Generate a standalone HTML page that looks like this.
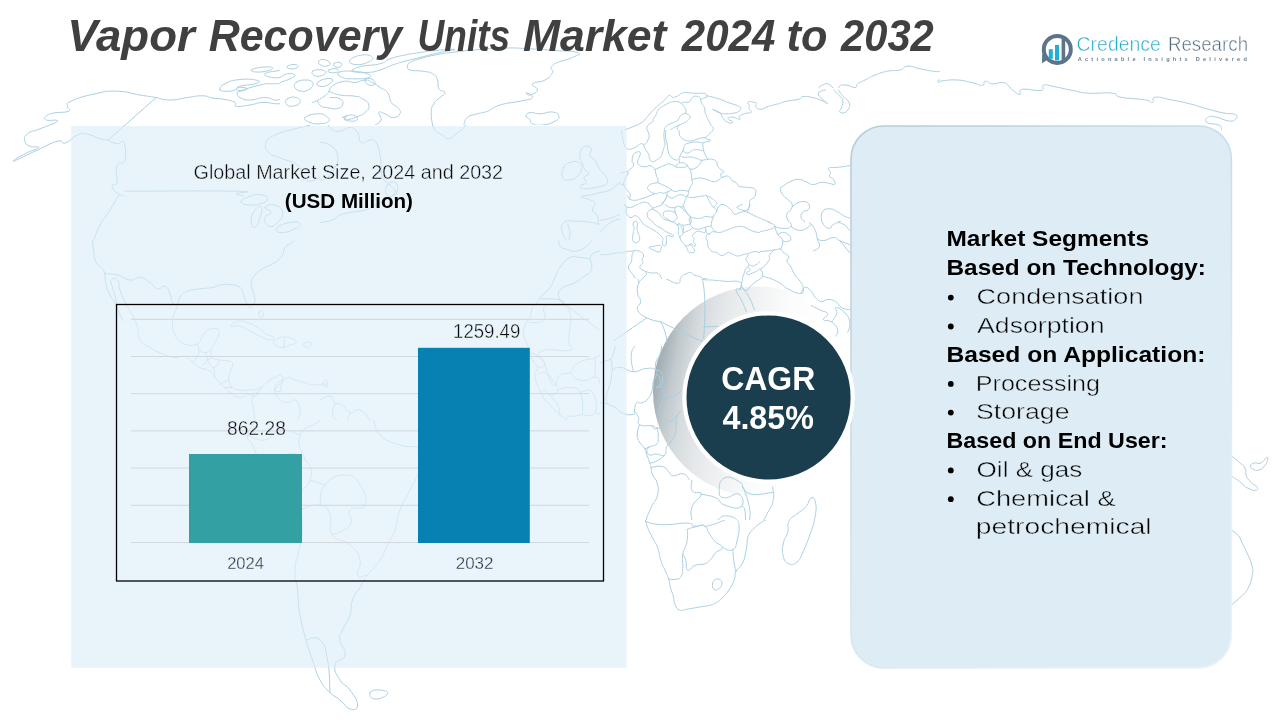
<!DOCTYPE html>
<html lang="en">
<head>
<meta charset="utf-8">
<title>Vapor Recovery Units Market 2024 to 2032</title>
<style>
  html, body { margin: 0; padding: 0; background: #ffffff; }
  body { width: 1280px; height: 720px; overflow: hidden; position: relative;
         font-family: "Liberation Sans", sans-serif; }
  svg { position: absolute; left: 0; top: 0; display: block; will-change: transform; }
  text { font-family: "Liberation Sans", sans-serif; }

  .t-title { font-size: 44.6px; font-weight: 700; font-style: italic; fill: #404040; }
  .t-reg { font-size: 19.5px; fill: #0a0a0a; stroke: #eaf4fa; stroke-width: 0.4px; }
  .t-bold { font-size: 19.5px; font-weight: 700; fill: #000000; }
  .t-axis { font-size: 16.7px; fill: #2a3742; stroke: #eaf4fa; stroke-width: 0.3px; }
  .t-seg-b { font-size: 22.3px; font-weight: 700; fill: #000000; }
  .t-seg { font-size: 22.3px; fill: #050505; stroke: #deedf5; stroke-width: 0.45px; }
  .t-cagr { font-size: 33.6px; font-weight: 700; fill: #ffffff; }
  .t-logo1 { font-size: 19.3px; fill: #22a9cb; stroke: #ffffff; stroke-width: 0.5px; }
  .t-logo2 { font-size: 19.3px; fill: #526b80; stroke: #ffffff; stroke-width: 0.5px; }
  .t-tag { font-size: 5.6px; font-weight: 700; fill: #6a7f90; }

  .map path, .map polyline { fill: none; stroke: #aacfe0; stroke-width: 1; stroke-linejoin: round; stroke-linecap: round; }
</style>
</head>
<body>
<svg width="1280" height="720" viewBox="0 0 1280 720">
  <defs>
    <linearGradient id="crescent" x1="0" y1="0.4" x2="1" y2="0.6">
      <stop offset="0" stop-color="#9ba7ae" stop-opacity="1"/>
      <stop offset="0.03" stop-color="#a7b2b8" stop-opacity="1"/>
      <stop offset="0.065" stop-color="#b4bec3" stop-opacity="1"/>
      <stop offset="0.095" stop-color="#c2cace" stop-opacity="1"/>
      <stop offset="0.17" stop-color="#d6dbde" stop-opacity="1"/>
      <stop offset="0.28" stop-color="#e6e9eb" stop-opacity="1"/>
      <stop offset="0.40" stop-color="#f0f1f2" stop-opacity="1"/>
      <stop offset="0.56" stop-color="#f9fafa" stop-opacity="0.8"/>
      <stop offset="0.76" stop-color="#ffffff" stop-opacity="0"/>
    </linearGradient>
    <linearGradient id="panelStroke" x1="0" y1="0" x2="0.6" y2="1">
      <stop offset="0" stop-color="#b4cbd8"/>
      <stop offset="0.55" stop-color="#cfe0ea"/>
      <stop offset="1" stop-color="#e9f3f8"/>
    </linearGradient>
  </defs>

  <!-- crescent behind map lines -->
  <circle cx="758" cy="391.5" r="105" fill="url(#crescent)"/>
  <!-- ============ MAP (background) ============ -->
  <g class="map" id="map">
    <clipPath id="mc0"><rect x="0" y="60" width="280" height="180"/><rect x="280" y="125" width="40" height="115"/></clipPath>
    <g clip-path="url(#mc0)"><path d="M13.8 161.2C20.1 158.2 25.8 155.3 37.5 150.0C49.2 144.7 50.0 143.1 57.5 141.2C65.0 139.4 60.2 144.7 65.5 143.0C70.8 141.3 71.6 137.3 77.5 135.0C83.4 132.7 81.5 133.2 87.5 134.2C93.5 135.2 94.3 137.2 100.0 138.8C105.7 140.3 106.4 139.7 108.8 140.0 M13.8 161.2C14.2 160.7 11.8 161.3 15.5 159.0C19.2 156.7 21.3 155.6 27.5 152.5C33.7 149.4 38.1 149.2 38.8 147.5C39.4 145.8 33.7 147.9 30.0 146.2C26.3 144.6 25.7 144.6 25.0 141.2C24.3 137.9 23.5 137.1 27.5 133.8C31.5 130.4 32.0 132.1 40.0 128.8C48.0 125.4 55.8 123.6 57.5 121.2C59.2 118.9 49.2 121.3 46.2 120.0C43.2 118.7 44.2 118.1 46.2 116.2C48.2 114.4 47.8 114.3 53.8 113.0C59.8 111.7 65.1 113.0 68.8 111.2C72.4 109.5 66.8 108.9 67.5 106.2C68.2 103.6 63.9 104.6 71.2 101.2C78.6 97.9 82.7 96.4 95.0 93.8C107.3 91.1 105.5 90.9 117.5 91.2C129.5 91.6 129.7 93.3 140.0 95.0C150.3 96.7 151.9 96.8 156.2 97.5 M156.2 97.5 L108.8 139.5 M156.2 97.5C159.9 98.2 161.7 100.0 170.0 100.0C178.3 100.0 178.8 98.6 187.5 97.5C196.2 96.4 195.8 95.6 202.5 95.8C209.2 95.9 206.5 97.0 212.5 98.0C218.5 99.0 219.0 98.3 225.0 99.5C231.0 100.7 232.0 100.7 235.0 102.5C238.0 104.3 232.2 105.6 236.2 106.2C240.2 106.9 243.0 106.0 250.0 105.0C257.0 104.0 255.2 102.8 262.5 102.5C269.8 102.2 270.8 103.8 277.5 103.8C284.2 103.8 282.2 101.8 287.5 102.5C292.8 103.2 291.5 105.9 297.5 106.2C303.5 106.6 304.0 103.4 310.0 103.8C316.0 104.1 317.3 106.5 320.0 107.5 M220.0 89.5C220.0 87.5 219.7 86.4 225.0 83.8C230.3 81.1 231.3 80.4 240.0 79.5C248.7 78.6 253.5 79.4 257.5 80.5C261.5 81.6 259.7 82.2 255.0 83.8C250.3 85.3 245.3 84.6 240.0 86.2C234.7 87.9 239.0 88.7 235.0 90.0C231.0 91.3 229.0 91.4 225.0 91.2C221.0 91.1 220.0 91.5 220.0 89.5Z M251.2 70.0C252.6 68.7 259.3 67.3 265.0 67.0C270.7 66.7 273.8 67.4 272.5 68.8C271.2 70.1 265.7 71.7 260.0 72.0C254.3 72.3 249.9 71.3 251.2 70.0Z M265.0 73.8C266.3 72.2 268.3 72.2 275.0 71.2C281.7 70.2 284.0 69.0 290.0 70.0C296.0 71.0 299.5 73.0 297.5 75.0C295.5 77.0 289.8 77.0 282.5 77.5C275.2 78.0 274.7 78.0 270.0 77.0C265.3 76.0 263.7 75.3 265.0 73.8Z M240.0 91.2C246.0 88.9 251.3 87.0 260.0 85.0C268.7 83.0 266.5 83.8 272.5 83.8C278.5 83.8 279.5 82.7 282.5 85.0C285.5 87.3 285.1 88.5 283.8 92.5C282.4 96.5 282.5 98.7 277.5 100.0C272.5 101.3 272.3 97.5 265.0 97.5C257.7 97.5 256.7 100.0 250.0 100.0C243.3 100.0 243.3 99.2 240.0 97.5C236.7 95.8 237.5 95.4 237.5 93.8C237.5 92.1 234.0 93.6 240.0 91.2Z M296.2 87.5C297.2 84.5 299.4 82.3 303.8 80.0C308.1 77.7 308.8 77.8 312.5 78.8C316.2 79.8 318.2 80.8 317.5 83.8C316.8 86.8 314.7 88.0 310.0 90.0C305.3 92.0 303.7 91.9 300.0 91.2C296.3 90.6 295.2 90.5 296.2 87.5Z M287.5 100.0C289.5 98.5 294.2 97.2 297.5 97.5C300.8 97.8 302.0 99.8 300.0 101.2C298.0 102.7 293.3 103.3 290.0 103.0C286.7 102.7 285.5 101.5 287.5 100.0Z M290.0 65.0C291.7 64.0 295.2 63.8 297.5 64.5C299.8 65.2 300.4 66.5 298.8 67.5C297.1 68.5 293.6 68.9 291.2 68.2C288.9 67.6 288.3 66.0 290.0 65.0Z M237.5 87.5C239.5 86.8 244.2 87.3 246.2 88.0C248.2 88.7 247.0 89.3 245.0 90.0C243.0 90.7 240.8 91.2 238.8 90.5C236.8 89.8 235.5 88.2 237.5 87.5Z M108.8 140.0C109.1 140.3 107.7 140.2 110.0 141.2C112.3 142.2 113.8 143.4 117.5 143.8C121.2 144.1 121.8 138.2 123.8 142.5C125.8 146.8 126.3 154.3 125.0 160.0C123.7 165.7 121.1 161.1 118.8 163.8C116.4 166.4 116.7 165.0 116.2 170.0C115.8 175.0 118.0 178.5 117.0 182.5C116.0 186.5 113.4 183.0 112.5 185.0C111.6 187.0 112.1 187.7 113.8 190.0C115.4 192.3 116.1 192.1 118.8 193.8C121.4 195.4 122.4 195.6 123.8 196.2 M118.8 195.0C116.4 199.0 115.0 202.0 110.0 210.0C105.0 218.0 104.3 217.0 100.0 225.0C95.7 233.0 95.4 236.0 93.8 240.0 M125.0 191.2C154.3 191.2 205.3 190.6 235.0 191.2C264.7 191.9 233.9 192.4 236.2 193.8C238.6 195.1 241.8 195.6 243.8 196.2 M241.2 202.5C240.6 200.2 244.3 198.2 250.0 196.2C255.7 194.2 257.8 194.0 262.5 195.0C267.2 196.0 268.2 197.7 267.5 200.0C266.8 202.3 264.0 202.4 260.0 203.8C256.0 205.1 257.5 205.3 252.5 205.0C247.5 204.7 241.9 204.8 241.2 202.5Z M251.2 220.0C251.2 215.3 252.3 213.3 255.0 210.0C257.7 206.7 259.9 205.5 261.2 207.5C262.6 209.5 261.7 212.2 260.0 217.5C258.3 222.8 257.3 226.8 255.0 227.5C252.7 228.2 251.2 224.7 251.2 220.0Z M265.0 207.5C266.0 205.5 270.3 203.7 275.0 205.0C279.7 206.3 281.8 207.8 282.5 212.5C283.2 217.2 281.2 218.8 277.5 222.5C273.8 226.2 272.1 227.6 268.8 226.2C265.4 224.9 264.3 221.2 265.0 217.5C265.7 213.8 271.2 215.2 271.2 212.5C271.2 209.8 264.0 209.5 265.0 207.5Z M277.5 227.5C280.2 224.8 284.0 223.5 290.0 222.5C296.0 221.5 299.3 221.8 300.0 223.8C300.7 225.8 297.8 227.7 292.5 230.0C287.2 232.3 284.0 233.2 280.0 232.5C276.0 231.8 274.8 230.2 277.5 227.5Z M320.0 120.0C317.3 121.3 316.7 122.7 310.0 125.0C303.3 127.3 304.3 126.1 295.0 128.8C285.7 131.4 282.7 131.3 275.0 135.0C267.3 138.7 267.9 137.8 266.2 142.5C264.6 147.2 264.4 148.2 268.8 152.5C273.1 156.8 274.8 155.4 282.5 158.8C290.2 162.1 291.8 160.0 297.5 165.0C303.2 170.0 300.4 173.2 303.8 177.5C307.1 181.8 305.7 181.2 310.0 181.2C314.3 181.2 317.3 178.5 320.0 177.5"/></g>
    <clipPath id="mc1"><rect x="280" y="45" width="320" height="80"/></clipPath>
    <g clip-path="url(#mc1)"><path d="M407.5 66.2C408.2 65.2 406.7 64.5 410.0 62.5C413.3 60.5 413.3 60.8 420.0 58.8C426.7 56.8 425.7 56.8 435.0 55.0C444.3 53.2 443.0 53.5 455.0 52.0C467.0 50.5 466.7 50.6 480.0 49.5C493.3 48.4 491.7 48.2 505.0 48.0C518.3 47.8 516.7 48.1 530.0 48.8C543.3 49.4 542.3 49.5 555.0 50.5C567.7 51.5 572.8 50.6 577.5 52.5C582.2 54.4 577.8 54.8 572.5 57.5C567.2 60.2 563.2 59.8 557.5 62.5C551.8 65.2 552.6 64.8 551.2 67.5C549.9 70.2 554.2 69.2 552.5 72.5C550.8 75.8 550.3 77.0 545.0 80.0C539.7 83.0 534.5 81.1 532.5 83.8C530.5 86.4 538.2 87.0 537.5 90.0C536.8 93.0 533.0 94.3 530.0 95.0C527.0 95.7 525.6 91.8 526.2 92.5C526.9 93.2 534.2 95.2 532.5 97.5C530.8 99.8 528.7 99.2 520.0 101.2C511.3 103.2 508.7 102.3 500.0 105.0C491.3 107.7 493.5 108.9 487.5 111.2C481.5 113.6 482.8 112.1 477.5 113.8C472.2 115.4 471.2 114.5 467.5 117.5C463.8 120.5 464.8 123.0 463.8 125.0 M407.5 66.2C408.2 67.2 406.0 68.7 410.0 70.0C414.0 71.3 416.5 70.2 422.5 71.2C428.5 72.2 428.5 71.4 432.5 73.8C436.5 76.1 435.8 76.0 437.5 80.0C439.2 84.0 436.8 85.4 438.8 88.8C440.8 92.1 444.7 90.2 445.0 92.5C445.3 94.8 443.0 94.5 440.0 97.5C437.0 100.5 436.1 99.8 433.8 103.8C431.4 107.8 431.6 106.8 431.2 112.5C430.9 118.2 432.2 121.7 432.5 125.0 M352.5 70.0C354.5 68.5 355.2 67.9 362.5 66.2C369.8 64.6 372.7 65.8 380.0 63.8C387.3 61.8 383.3 61.1 390.0 58.8C396.7 56.4 397.0 56.7 405.0 55.0C413.0 53.3 412.0 53.7 420.0 52.5C428.0 51.3 425.7 51.3 435.0 50.5C444.3 49.7 453.7 49.0 455.0 49.5C456.3 50.0 449.3 50.4 440.0 52.5C430.7 54.6 429.3 55.2 420.0 57.5C410.7 59.8 412.3 59.2 405.0 61.2C397.7 63.2 399.2 62.7 392.5 65.0C385.8 67.3 386.7 68.0 380.0 70.0C373.3 72.0 374.2 72.0 367.5 72.5C360.8 73.0 359.0 72.7 355.0 72.0C351.0 71.3 350.5 71.5 352.5 70.0Z M328.8 91.2C330.1 89.6 329.4 87.7 333.8 85.0C338.1 82.3 339.3 81.9 345.0 81.2C350.7 80.6 349.7 82.8 355.0 82.5C360.3 82.2 360.3 80.0 365.0 80.0C369.7 80.0 368.5 80.5 372.5 82.5C376.5 84.5 376.0 84.8 380.0 87.5C384.0 90.2 384.5 88.5 387.5 92.5C390.5 96.5 388.6 98.5 391.2 102.5C393.9 106.5 395.2 104.5 397.5 107.5C399.8 110.5 401.3 111.1 400.0 113.8C398.7 116.4 396.5 117.5 392.5 117.5C388.5 117.5 388.7 115.1 385.0 113.8C381.3 112.4 379.8 110.8 378.8 112.5C377.8 114.2 382.2 116.7 381.2 120.0C380.2 123.3 376.7 123.7 375.0 125.0 M328.8 91.2C331.8 92.2 333.0 93.7 340.0 95.0C347.0 96.3 349.0 95.2 355.0 96.2C361.0 97.2 358.8 96.4 362.5 98.8C366.2 101.1 368.1 101.3 368.8 105.0C369.4 108.7 368.7 109.2 365.0 112.5C361.3 115.8 360.3 115.5 355.0 117.5C349.7 119.5 347.3 120.3 345.0 120.0C342.7 119.7 346.9 116.9 346.2 116.2C345.6 115.6 343.5 117.2 342.5 117.5 M350.0 60.0C352.0 57.5 356.5 55.7 362.5 55.0C368.5 54.3 371.2 55.5 372.5 57.5C373.8 59.5 372.2 60.6 367.5 62.5C362.8 64.4 359.7 65.2 355.0 64.5C350.3 63.8 348.0 62.5 350.0 60.0Z M318.8 61.2C319.8 59.9 320.8 59.0 323.8 59.5C326.8 60.0 329.3 61.2 330.0 63.0C330.7 64.8 328.9 65.8 326.2 66.2C323.6 66.7 322.0 65.8 320.0 64.5C318.0 63.2 317.8 62.6 318.8 61.2Z M333.8 63.8C334.9 62.5 338.0 61.8 340.0 62.5C342.0 63.2 342.4 65.0 341.2 66.2C340.1 67.5 337.5 67.7 335.5 67.0C333.5 66.3 332.6 65.0 333.8 63.8Z M287.5 66.2C288.8 65.1 292.3 64.2 295.0 64.5C297.7 64.8 298.8 66.4 297.5 67.5C296.2 68.6 292.7 69.1 290.0 68.8C287.3 68.4 286.2 67.4 287.5 66.2Z M312.5 71.2C314.2 69.6 319.2 69.3 322.5 70.0C325.8 70.7 326.7 72.1 325.0 73.8C323.3 75.4 319.6 76.9 316.2 76.2C312.9 75.6 310.8 72.9 312.5 71.2Z M328.8 70.0C330.4 69.0 333.9 68.2 336.2 68.8C338.6 69.3 339.2 71.0 337.5 72.0C335.8 73.0 332.3 73.0 330.0 72.5C327.7 72.0 327.1 71.0 328.8 70.0Z M338.8 72.5C341.4 70.8 344.8 70.9 352.5 71.2C360.2 71.6 363.2 72.1 367.5 73.8C371.8 75.4 372.1 76.2 368.8 77.5C365.4 78.8 362.0 78.8 355.0 78.8C348.0 78.8 346.8 79.2 342.5 77.5C338.2 75.8 336.1 74.2 338.8 72.5Z M365.0 80.0C365.7 78.3 368.6 77.8 371.2 78.8C373.9 79.8 375.7 82.1 375.0 83.8C374.3 85.4 371.4 86.0 368.8 85.0C366.1 84.0 364.3 81.7 365.0 80.0Z M296.2 82.5C298.9 80.5 300.7 80.0 305.0 80.0C309.3 80.0 311.2 80.2 312.5 82.5C313.8 84.8 313.0 86.4 310.0 88.8C307.0 91.1 305.2 91.6 301.2 91.2C297.2 90.9 296.3 89.8 295.0 87.5C293.7 85.2 293.6 84.5 296.2 82.5Z M317.5 82.5C319.2 80.5 322.2 79.4 326.2 78.8C330.2 78.1 332.2 78.3 332.5 80.0C332.8 81.7 330.8 83.3 327.5 85.0C324.2 86.7 322.7 86.9 320.0 86.2C317.3 85.6 315.8 84.5 317.5 82.5Z M287.5 98.8C290.2 97.1 292.9 96.5 296.2 97.5C299.6 98.5 301.0 100.2 300.0 102.5C299.0 104.8 296.2 105.9 292.5 106.2C288.8 106.6 287.6 105.8 286.2 103.8C284.9 101.8 284.8 100.4 287.5 98.8Z M280.0 77.5C282.0 76.5 283.5 74.4 287.5 73.8C291.5 73.1 294.3 73.7 295.0 75.0C295.7 76.3 294.0 76.8 290.0 78.8C286.0 80.8 282.7 81.5 280.0 82.5 M312.5 102.5C315.2 101.2 317.8 100.5 322.5 97.5C327.2 94.5 328.0 92.9 330.0 91.2 M330.0 97.5C332.7 97.8 336.7 96.8 340.0 98.8C343.3 100.8 343.5 102.3 342.5 105.0C341.5 107.7 340.2 108.1 336.2 108.8C332.2 109.4 331.5 108.2 327.5 107.5C323.5 106.8 323.9 107.9 321.2 106.2C318.6 104.6 318.5 102.6 317.5 101.2 M305.0 117.5C307.0 115.2 311.8 114.1 317.5 113.8C323.2 113.4 323.2 114.2 326.2 116.2C329.2 118.2 330.4 119.2 328.8 121.2C327.1 123.2 325.0 123.4 320.0 123.8C315.0 124.1 314.0 124.2 310.0 122.5C306.0 120.8 303.0 119.8 305.0 117.5Z M343.8 117.5C344.1 115.8 348.8 114.7 352.5 115.0C356.2 115.3 357.8 117.1 357.5 118.8C357.2 120.4 354.9 121.6 351.2 121.2C347.6 120.9 343.4 119.2 343.8 117.5Z M526.2 116.2C526.2 114.4 526.3 113.2 530.0 112.5C533.7 111.8 534.0 113.9 540.0 113.8C546.0 113.6 547.5 111.3 552.5 112.0C557.5 112.7 558.1 113.8 558.8 116.2C559.4 118.7 559.3 118.9 555.0 121.2C550.7 123.6 548.5 124.3 542.5 125.0C536.5 125.7 535.8 125.2 532.5 123.8C529.2 122.3 531.7 121.5 530.0 119.5C528.3 117.5 526.2 118.1 526.2 116.2Z"/></g>
    <clipPath id="mc2"><rect x="320" y="125" width="280" height="115"/><rect x="600" y="60" width="20" height="140"/></clipPath>
    <g clip-path="url(#mc2)"><path d="M431.2 120.0C432.2 122.7 432.0 126.0 435.0 130.0C438.0 134.0 438.8 132.7 442.5 135.0C446.2 137.3 445.1 139.1 448.8 138.8C452.4 138.4 452.2 136.8 456.2 133.8C460.2 130.8 460.8 131.2 463.8 127.5C466.8 123.8 466.5 122.0 467.5 120.0 M430.0 110.0 L431.2 120.0 M320.0 122.5C321.3 122.2 322.0 119.6 325.0 121.2C328.0 122.9 327.2 126.1 331.2 128.8C335.2 131.4 335.0 131.6 340.0 131.2C345.0 130.9 345.3 127.2 350.0 127.5C354.7 127.8 354.5 128.5 357.5 132.5C360.5 136.5 357.9 140.5 361.2 142.5C364.6 144.5 366.0 140.0 370.0 140.0C374.0 140.0 373.6 138.5 376.2 142.5C378.9 146.5 378.7 149.0 380.0 155.0C381.3 161.0 380.6 159.0 381.2 165.0C381.9 171.0 380.2 172.2 382.5 177.5C384.8 182.8 386.7 181.0 390.0 185.0C393.3 189.0 396.3 188.5 395.0 192.5C393.7 196.5 390.3 196.7 385.0 200.0C379.7 203.3 380.3 202.3 375.0 205.0C369.7 207.7 371.7 208.0 365.0 210.0C358.3 212.0 356.7 211.2 350.0 212.5C343.3 213.8 344.7 213.0 340.0 215.0C335.3 217.0 337.8 218.0 332.5 220.0C327.2 222.0 323.3 221.8 320.0 222.5 M387.5 185.0C389.8 182.0 392.3 181.2 395.0 182.5C397.7 183.8 398.2 186.3 397.5 190.0C396.8 193.7 395.5 195.2 392.5 196.2C389.5 197.2 387.6 196.8 386.2 193.8C384.9 190.8 385.2 188.0 387.5 185.0Z M320.0 142.5C322.7 143.2 325.3 141.7 330.0 145.0C334.7 148.3 336.2 149.0 337.5 155.0C338.8 161.0 337.7 161.5 335.0 167.5C332.3 173.5 331.5 174.2 327.5 177.5C323.5 180.8 322.0 179.3 320.0 180.0 M581.2 150.0C582.9 147.0 583.6 146.6 586.2 146.2C588.9 145.9 590.2 146.1 591.2 148.8C592.2 151.4 589.0 153.2 590.0 156.2C591.0 159.2 592.7 157.0 595.0 160.0C597.3 163.0 596.4 163.8 598.8 167.5C601.1 171.2 601.4 170.4 603.8 173.8C606.1 177.1 607.2 177.0 607.5 180.0C607.8 183.0 608.3 183.0 605.0 185.0C601.7 187.0 600.3 186.5 595.0 187.5C589.7 188.5 589.0 189.1 585.0 188.8C581.0 188.4 579.7 187.9 580.0 186.2C580.3 184.6 585.2 184.8 586.2 182.5C587.2 180.2 583.1 179.8 583.8 177.5C584.4 175.2 588.4 175.8 588.8 173.8C589.1 171.8 586.7 172.7 585.0 170.0C583.3 167.3 583.8 167.1 582.5 163.8C581.2 160.4 580.3 161.2 580.0 157.5C579.7 153.8 579.6 153.0 581.2 150.0Z M563.8 167.5C565.8 163.5 566.0 163.8 570.0 162.5C574.0 161.2 575.8 160.8 578.8 162.5C581.8 164.2 581.6 165.1 581.2 168.8C580.9 172.4 580.8 173.2 577.5 176.2C574.2 179.2 572.8 179.7 568.8 180.0C564.8 180.3 563.8 180.8 562.5 177.5C561.2 174.2 561.8 171.5 563.8 167.5Z M640.0 172.5C637.3 173.8 635.3 174.8 630.0 177.5C624.7 180.2 625.3 179.2 620.0 182.5C614.7 185.8 615.3 187.3 610.0 190.0C604.7 192.7 605.3 191.2 600.0 192.5C594.7 193.8 595.0 194.0 590.0 195.0C585.0 196.0 581.2 194.9 581.2 196.2C581.2 197.6 586.3 198.0 590.0 200.0C593.7 202.0 594.3 201.1 595.0 203.8C595.7 206.4 591.8 206.7 592.5 210.0C593.2 213.3 596.2 212.6 597.5 216.2C598.8 219.9 598.8 222.1 597.5 223.8C596.2 225.4 597.8 223.2 592.5 222.5C587.2 221.8 585.2 221.2 577.5 221.2C569.8 221.2 567.8 219.5 563.8 222.5C559.8 225.5 561.8 227.8 562.5 232.5C563.2 237.2 565.2 238.0 566.2 240.0 M597.5 223.8C600.2 224.4 601.8 224.6 607.5 226.2C613.2 227.9 615.8 229.0 618.8 230.0 M618.8 230.0C621.1 229.0 622.8 226.9 627.5 226.2C632.2 225.6 632.9 227.8 636.2 227.5C639.6 227.2 639.0 225.7 640.0 225.0 M618.8 230.0C617.8 231.7 617.0 233.6 615.0 236.2C613.0 238.9 612.2 239.0 611.2 240.0 M567.5 223.8C568.2 226.1 569.7 228.2 570.0 232.5C570.3 236.8 569.1 238.0 568.8 240.0 M640.0 145.0C638.3 145.7 636.4 145.2 633.8 147.5C631.1 149.8 630.3 150.4 630.0 153.8C629.7 157.1 633.2 156.3 632.5 160.0C631.8 163.7 625.5 164.2 627.5 167.5C629.5 170.8 636.7 171.2 640.0 172.5 M640.0 122.5C637.3 123.5 634.3 123.6 630.0 126.2C625.7 128.9 624.8 128.8 623.8 132.5C622.8 136.2 623.6 137.3 626.2 140.0C628.9 142.7 630.1 143.2 633.8 142.5C637.4 141.8 638.3 138.8 640.0 137.5 M620.0 182.5C622.0 184.2 622.8 186.1 627.5 188.8C632.2 191.4 634.2 189.5 637.5 192.5C640.8 195.5 639.3 198.0 640.0 200.0 M627.5 167.5C627.8 170.2 628.8 171.8 628.8 177.5C628.8 183.2 627.8 185.8 627.5 188.8 M637.5 192.5C636.2 195.2 633.2 197.2 632.5 202.5C631.8 207.8 635.7 207.8 635.0 212.5C634.3 217.2 629.7 216.0 630.0 220.0C630.3 224.0 634.6 225.5 636.2 227.5"/></g>
    <clipPath id="mc3"><rect x="620" y="60" width="320" height="28"/><rect x="860" y="88" width="80" height="112"/></clipPath>
    <g clip-path="url(#mc3)"><path d="M640.0 142.5C641.0 139.8 641.4 138.2 643.8 132.5C646.1 126.8 645.8 127.2 648.8 121.2C651.8 115.2 651.3 115.0 655.0 110.0C658.7 105.0 658.5 106.2 662.5 102.5C666.5 98.8 664.3 98.9 670.0 96.2C675.7 93.6 676.4 93.2 683.8 92.5C691.1 91.8 691.5 92.8 697.5 93.8C703.5 94.8 699.6 94.9 706.2 96.2C712.9 97.6 714.2 96.8 722.5 98.8C730.8 100.8 732.5 101.1 737.5 103.8C742.5 106.4 741.6 106.3 741.2 108.8C740.9 111.2 740.9 111.7 736.2 113.0C731.6 114.3 730.1 114.5 723.8 113.8C717.4 113.0 713.5 109.3 712.5 110.0C711.5 110.7 716.7 113.0 720.0 116.2C723.3 119.5 721.7 120.7 725.0 122.0C728.3 123.3 728.5 122.5 732.5 121.2C736.5 120.0 736.3 119.5 740.0 117.5C743.7 115.5 743.6 116.1 746.2 113.8C748.9 111.4 749.7 111.4 750.0 108.8C750.3 106.1 746.5 105.4 747.5 103.8C748.5 102.1 751.1 101.5 753.8 102.5C756.4 103.5 754.5 106.5 757.5 107.5C760.5 108.5 760.3 107.6 765.0 106.2C769.7 104.9 769.0 103.8 775.0 102.5C781.0 101.2 780.8 102.6 787.5 101.2C794.2 99.9 793.3 98.5 800.0 97.5C806.7 96.5 806.5 96.5 812.5 97.5C818.5 98.5 818.5 99.6 822.5 101.2C826.5 102.9 828.2 104.8 827.5 103.8C826.8 102.8 822.7 100.8 820.0 97.5C817.3 94.2 816.8 94.6 817.5 91.2C818.2 87.9 819.2 86.7 822.5 85.0C825.8 83.3 826.7 83.0 830.0 85.0C833.3 87.0 832.3 88.5 835.0 92.5C837.7 96.5 839.0 95.7 840.0 100.0C841.0 104.3 837.8 105.4 838.8 108.8C839.8 112.1 841.1 112.8 843.8 112.5C846.4 112.2 848.1 110.8 848.8 107.5C849.4 104.2 848.6 103.3 846.2 100.0C843.9 96.7 842.0 98.3 840.0 95.0C838.0 91.7 837.4 90.2 838.8 87.5C840.1 84.8 840.7 85.0 845.0 85.0C849.3 85.0 851.7 87.8 855.0 87.5C858.3 87.2 854.8 85.8 857.5 83.8C860.2 81.8 860.3 82.3 865.0 80.0C869.7 77.7 869.0 77.3 875.0 75.0C881.0 72.7 880.8 72.6 887.5 71.2C894.2 69.9 894.7 71.3 900.0 70.0C905.3 68.7 902.2 66.6 907.5 66.2C912.8 65.9 913.3 67.4 920.0 68.8C926.7 70.1 926.5 70.2 932.5 71.2C938.5 72.2 939.5 70.8 942.5 72.5C945.5 74.2 945.1 75.2 943.8 77.5C942.4 79.8 937.5 79.9 937.5 81.2C937.5 82.6 939.8 82.5 943.8 82.5C947.8 82.5 948.2 81.6 952.5 81.2C956.8 80.9 958.0 81.2 960.0 81.2 M697.5 97.5C694.5 98.2 693.6 99.0 686.2 100.0C678.9 101.0 677.0 98.6 670.0 101.2C663.0 103.9 664.7 104.7 660.0 110.0C655.3 115.3 655.2 115.2 652.5 121.2C649.8 127.2 651.7 126.8 650.0 132.5C648.3 138.2 646.2 137.2 646.2 142.5C646.2 147.8 648.3 147.8 650.0 152.5C651.7 157.2 651.8 158.0 652.5 160.0 M685.0 113.8C683.0 115.8 682.2 117.6 677.5 121.2C672.8 124.9 670.8 123.8 667.5 127.5C664.2 131.2 665.0 130.3 665.0 135.0C665.0 139.7 667.5 139.7 667.5 145.0C667.5 150.3 667.7 151.0 665.0 155.0C662.3 159.0 660.8 158.3 657.5 160.0C654.2 161.7 655.2 162.2 652.5 161.2C649.8 160.2 649.8 159.6 647.5 156.2C645.2 152.9 645.8 152.4 643.8 148.8C641.8 145.1 641.0 144.2 640.0 142.5 M685.0 113.8C686.3 111.4 687.7 109.3 690.0 105.0C692.3 100.7 692.8 99.5 693.8 97.5 M686.2 120.0C684.6 122.0 682.0 123.5 680.0 127.5C678.0 131.5 677.8 131.7 678.8 135.0C679.8 138.3 679.8 138.0 683.8 140.0C687.8 142.0 686.8 142.5 693.8 142.5C700.8 142.5 707.0 141.3 710.0 140.0C713.0 138.7 704.7 140.2 705.0 137.5C705.3 134.8 709.2 134.0 711.2 130.0C713.2 126.0 714.2 127.8 712.5 122.5C710.8 117.2 707.7 116.0 705.0 110.0C702.3 104.0 703.2 102.7 702.5 100.0 M686.2 120.0 L685.0 113.8 M693.8 142.5C691.4 143.5 688.0 143.2 685.0 146.2C682.0 149.2 683.8 150.4 682.5 153.8C681.2 157.1 681.3 155.8 680.0 158.8C678.7 161.8 681.5 162.7 677.5 165.0C673.5 167.3 671.0 166.5 665.0 167.5C659.0 168.5 660.3 169.1 655.0 168.8C649.7 168.4 649.0 167.2 645.0 166.2C641.0 165.2 641.3 165.3 640.0 165.0 M683.8 145.0C688.8 144.3 696.5 141.8 702.5 142.5C708.5 143.2 705.2 146.2 706.2 147.5 M681.2 152.5C686.9 152.2 695.5 149.6 702.5 151.2C709.5 152.9 706.2 156.8 707.5 158.8 M680.0 158.8C683.7 158.8 688.4 157.4 693.8 158.8C699.1 160.1 700.3 161.1 700.0 163.8C699.7 166.4 695.8 168.1 692.5 168.8C689.2 169.4 691.5 167.2 687.5 166.2C683.5 165.2 680.2 165.3 677.5 165.0 M706.2 147.5 L702.5 151.2 M655.0 168.8C655.7 171.8 657.8 175.7 657.5 180.0C657.2 184.3 651.8 182.3 653.8 185.0C655.8 187.7 658.7 188.3 665.0 190.0C671.3 191.7 671.2 191.2 677.5 191.2C683.8 191.2 685.1 193.7 688.8 190.0C692.4 186.3 691.2 183.2 691.2 177.5C691.2 171.8 688.4 171.1 688.8 168.8C689.1 166.4 691.5 168.8 692.5 168.8 M700.0 163.8C702.0 162.8 702.8 159.7 707.5 160.0C712.2 160.3 713.5 161.7 717.5 165.0C721.5 168.3 721.8 168.8 722.5 172.5C723.2 176.2 722.7 176.4 720.0 178.8C717.3 181.1 717.2 180.9 712.5 181.2C707.8 181.6 708.2 181.0 702.5 180.0C696.8 179.0 694.2 178.2 691.2 177.5 M720.0 178.8C721.3 178.1 721.0 175.2 725.0 176.2C729.0 177.2 729.7 179.8 735.0 182.5C740.3 185.2 739.7 184.2 745.0 186.2C750.3 188.2 752.7 186.7 755.0 190.0C757.3 193.3 755.8 194.8 753.8 198.8C751.8 202.8 751.2 202.0 747.5 205.0C743.8 208.0 743.7 208.3 740.0 210.0C736.3 211.7 734.1 212.6 733.8 211.2C733.4 209.9 739.8 206.0 738.8 205.0C737.8 204.0 734.3 207.5 730.0 207.5C725.7 207.5 726.5 204.3 722.5 205.0C718.5 205.7 718.3 210.7 715.0 210.0C711.7 209.3 713.3 205.8 710.0 202.5C706.7 199.2 707.8 198.5 702.5 197.5C697.2 196.5 693.7 200.8 690.0 198.8C686.3 196.8 689.1 192.3 688.8 190.0 M740.0 210.0C742.7 211.0 744.7 211.1 750.0 213.8C755.3 216.4 754.7 217.7 760.0 220.0C765.3 222.3 764.7 221.2 770.0 222.5C775.3 223.8 776.0 223.0 780.0 225.0C784.0 227.0 783.7 228.7 785.0 230.0 M780.0 187.5C782.7 185.8 784.7 183.2 790.0 181.2C795.3 179.2 794.7 179.3 800.0 180.0C805.3 180.7 804.0 183.1 810.0 183.8C816.0 184.4 815.8 182.5 822.5 182.5C829.2 182.5 832.0 185.1 835.0 183.8C838.0 182.4 835.1 180.5 833.8 177.5C832.4 174.5 830.7 174.8 830.0 172.5C829.3 170.2 825.9 170.6 831.2 168.8C836.6 166.9 845.0 166.4 850.0 165.5 M780.0 187.5C781.0 189.8 780.8 192.2 783.8 196.2C786.8 200.2 788.9 198.2 791.2 202.5C793.6 206.8 793.5 207.8 792.5 212.5C791.5 217.2 786.8 216.0 787.5 220.0C788.2 224.0 791.7 226.8 795.0 227.5C798.3 228.2 799.7 226.2 800.0 222.5C800.3 218.8 796.2 217.8 796.2 213.8C796.2 209.8 800.0 210.2 800.0 207.5C800.0 204.8 794.9 205.4 796.2 203.8C797.6 202.1 801.3 200.2 805.0 201.2C808.7 202.2 810.7 204.5 810.0 207.5C809.3 210.5 803.8 209.2 802.5 212.5C801.2 215.8 802.3 216.7 805.0 220.0C807.7 223.3 808.5 222.3 812.5 225.0C816.5 227.7 818.0 228.7 820.0 230.0 M823.8 210.0C826.1 209.7 828.2 208.1 832.5 208.8C836.8 209.4 836.7 210.5 840.0 212.5C843.3 214.5 842.3 214.2 845.0 216.2C847.7 218.2 848.7 219.0 850.0 220.0 M823.8 210.0C823.4 212.0 821.8 213.5 822.5 217.5C823.2 221.5 823.6 224.3 826.2 225.0C828.9 225.7 828.8 220.7 832.5 220.0C836.2 219.3 835.3 221.2 840.0 222.5C844.7 223.8 847.3 224.3 850.0 225.0 M640.0 185.0C642.7 184.7 646.3 183.8 650.0 183.8C653.7 183.8 652.8 184.7 653.8 185.0 M650.0 183.8C649.3 185.4 646.2 187.0 647.5 190.0C648.8 193.0 650.3 194.3 655.0 195.0C659.7 195.7 662.3 193.8 665.0 192.5C667.7 191.2 665.0 190.7 665.0 190.0 M655.0 195.0C656.3 196.3 660.7 197.0 660.0 200.0C659.3 203.0 657.8 205.2 652.5 206.2C647.2 207.2 643.3 204.4 640.0 203.8 M665.0 192.5C667.0 193.5 667.2 195.2 672.5 196.2C677.8 197.2 680.7 197.9 685.0 196.2C689.3 194.6 687.8 191.7 688.8 190.0 M672.5 196.2C671.2 198.2 666.8 200.8 667.5 203.8C668.2 206.8 670.3 207.5 675.0 207.5C679.7 207.5 682.3 206.8 685.0 203.8C687.7 200.8 685.0 198.2 685.0 196.2 M685.0 203.8 L690.0 198.8 M685.0 203.8C686.3 206.8 684.7 211.0 690.0 215.0C695.3 219.0 698.3 220.1 705.0 218.8C711.7 217.4 712.3 212.3 715.0 210.0 M675.0 207.5C675.7 210.2 673.5 214.2 677.5 217.5C681.5 220.8 686.7 220.7 690.0 220.0C693.3 219.3 690.0 216.3 690.0 215.0 M660.0 200.0 L667.5 203.8 M652.5 206.2C654.5 207.2 656.7 207.0 660.0 210.0C663.3 213.0 661.0 214.2 665.0 217.5C669.0 220.8 671.7 222.5 675.0 222.5C678.3 222.5 676.8 218.8 677.5 217.5 M690.0 220.0C690.7 222.0 688.5 225.5 692.5 227.5C696.5 229.5 701.7 229.8 705.0 227.5C708.3 225.2 705.0 221.1 705.0 218.8 M692.5 227.5C691.2 229.5 686.8 231.7 687.5 235.0C688.2 238.3 693.0 238.7 695.0 240.0 M640.0 203.8C642.0 205.4 644.2 205.7 647.5 210.0C650.8 214.3 648.5 214.7 652.5 220.0C656.5 225.3 657.2 226.0 662.5 230.0C667.8 234.0 668.5 232.3 672.5 235.0C676.5 237.7 676.2 238.7 677.5 240.0 M675.0 222.5C676.3 225.2 676.7 229.2 680.0 232.5C683.3 235.8 685.5 234.3 687.5 235.0 M705.0 227.5C707.7 228.8 708.3 231.8 715.0 232.5C721.7 233.2 722.0 230.0 730.0 230.0C738.0 230.0 737.0 231.2 745.0 232.5C753.0 233.8 752.0 235.0 760.0 235.0C768.0 235.0 768.3 233.8 775.0 232.5C781.7 231.2 782.3 230.7 785.0 230.0 M785.0 230.0C786.3 231.3 787.3 235.7 790.0 235.0C792.7 234.3 793.7 229.5 795.0 227.5 M640.0 165.0C640.7 167.7 642.5 169.7 642.5 175.0C642.5 180.3 640.7 182.3 640.0 185.0"/></g>
    <clipPath id="mc4"><rect x="940" y="60" width="340" height="191"/></clipPath>
    <g clip-path="url(#mc4)"><path d="M940.0 81.2C944.2 80.9 947.4 79.6 955.9 79.9C964.4 80.3 964.8 81.2 971.9 82.6C979.0 84.0 979.0 85.6 982.5 85.2C986.0 84.9 982.3 81.6 985.2 81.2C988.0 80.9 988.2 83.6 993.1 83.9C998.1 84.3 998.8 81.2 1003.7 82.6C1008.7 84.0 1007.5 86.0 1011.7 89.2C1016.0 92.4 1016.8 94.5 1019.7 94.5C1022.5 94.5 1016.7 90.3 1022.3 89.2C1028.0 88.2 1035.3 91.6 1040.9 90.5C1046.6 89.5 1040.0 86.3 1043.6 85.2C1047.1 84.2 1046.4 85.1 1054.2 86.6C1062.0 88.0 1063.6 88.8 1072.8 90.5C1082.0 92.3 1078.1 92.5 1088.7 93.2C1099.4 93.9 1104.1 92.1 1112.6 93.2C1121.1 94.3 1112.1 95.4 1120.6 97.2C1129.1 99.0 1136.0 98.4 1144.5 99.8C1153.0 101.3 1149.7 103.2 1152.5 102.5C1155.3 101.8 1150.2 97.9 1155.1 97.2C1160.1 96.5 1161.9 98.1 1171.1 99.8C1180.3 101.6 1179.8 101.3 1189.7 103.8C1199.6 106.3 1199.1 106.7 1208.3 109.1C1217.5 111.6 1217.1 111.7 1224.2 113.1C1231.3 114.5 1231.6 113.0 1234.8 114.4C1238.0 115.9 1237.6 116.7 1236.1 118.4C1234.7 120.2 1234.8 121.4 1229.5 121.1C1224.2 120.7 1221.9 118.2 1216.2 117.1C1210.6 116.0 1210.7 115.7 1208.3 117.1C1205.8 118.5 1204.1 120.3 1206.9 122.4C1209.8 124.5 1215.0 123.2 1218.9 125.1C1222.8 127.0 1220.8 128.4 1221.5 129.6"/></g>
    <clipPath id="mc5"><rect x="0" y="240" width="320" height="180"/></clipPath>
    <g clip-path="url(#mc5)"><path d="M92.5 240.0C92.8 243.3 92.8 246.5 93.8 252.5C94.8 258.5 93.9 258.2 96.2 262.5C98.6 266.8 100.2 265.8 102.5 268.8C104.8 271.8 104.3 272.4 105.0 273.8 M105.0 273.8C108.3 274.1 110.8 273.3 117.5 275.0C124.2 276.7 124.0 279.3 130.0 280.0C136.0 280.7 134.7 276.8 140.0 277.5C145.3 278.2 145.3 279.5 150.0 282.5C154.7 285.5 153.5 287.8 157.5 288.8C161.5 289.8 161.7 284.9 165.0 286.2C168.3 287.6 168.0 289.4 170.0 293.8C172.0 298.1 170.5 299.2 172.5 302.5C174.5 305.8 176.2 305.2 177.5 306.2 M105.0 273.8C105.3 276.8 104.9 279.3 106.2 285.0C107.6 290.7 107.3 289.7 110.0 295.0C112.7 300.3 113.2 299.0 116.2 305.0C119.2 311.0 119.6 313.5 121.2 317.5C122.9 321.5 123.2 321.3 122.5 320.0C121.8 318.7 120.4 317.8 118.8 312.5C117.1 307.2 117.9 306.7 116.2 300.0C114.6 293.3 113.8 292.8 112.5 287.5C111.2 282.2 109.9 282.0 111.2 280.0C112.6 278.0 115.2 277.3 117.5 280.0C119.8 282.7 118.0 284.0 120.0 290.0C122.0 296.0 121.7 295.8 125.0 302.5C128.3 309.2 129.2 308.3 132.5 315.0C135.8 321.7 135.5 320.8 137.5 327.5C139.5 334.2 136.7 334.7 140.0 340.0C143.3 345.3 144.0 343.8 150.0 347.5C156.0 351.2 155.8 351.1 162.5 353.8C169.2 356.4 169.0 356.8 175.0 357.5C181.0 358.2 180.3 354.9 185.0 356.2C189.7 357.6 188.5 359.5 192.5 362.5C196.5 365.5 195.3 365.2 200.0 367.5C204.7 369.8 206.0 368.6 210.0 371.2C214.0 373.9 212.3 374.2 215.0 377.5C217.7 380.8 217.3 381.1 220.0 383.8C222.7 386.4 222.3 385.2 225.0 387.5C227.7 389.8 226.0 389.8 230.0 392.5C234.0 395.2 235.3 397.2 240.0 397.5C244.7 397.8 243.5 394.1 247.5 393.8C251.5 393.4 251.7 397.2 255.0 396.2C258.3 395.2 258.0 392.3 260.0 390.0C262.0 387.7 261.8 388.2 262.5 387.5 M177.5 306.2C176.5 308.6 175.1 310.0 173.8 315.0C172.4 320.0 172.2 319.7 172.5 325.0C172.8 330.3 173.0 330.7 175.0 335.0C177.0 339.3 176.7 338.6 180.0 341.2C183.3 343.9 182.8 344.3 187.5 345.0C192.2 345.7 193.5 346.1 197.5 343.8C201.5 341.4 199.8 339.9 202.5 336.2C205.2 332.6 203.5 332.0 207.5 330.0C211.5 328.0 214.5 327.8 217.5 328.8C220.5 329.8 219.4 330.1 218.8 333.8C218.1 337.4 217.0 338.2 215.0 342.5C213.0 346.8 211.9 346.0 211.2 350.0C210.6 354.0 210.2 354.8 212.5 357.5C214.8 360.2 215.3 359.0 220.0 360.0C224.7 361.0 226.7 359.9 230.0 361.2C233.3 362.6 232.5 362.0 232.5 365.0C232.5 368.0 231.0 368.5 230.0 372.5C229.0 376.5 228.1 376.0 228.8 380.0C229.4 384.0 229.5 384.8 232.5 387.5C235.5 390.2 235.3 389.3 240.0 390.0C244.7 390.7 245.3 390.3 250.0 390.0C254.7 389.7 254.2 389.8 257.5 388.8C260.8 387.8 261.2 386.9 262.5 386.2 M177.5 306.2C178.2 303.9 177.3 301.5 180.0 297.5C182.7 293.5 182.2 293.6 187.5 291.2C192.8 288.9 193.3 289.8 200.0 288.8C206.7 287.8 207.2 288.5 212.5 287.5C217.8 286.5 215.3 285.8 220.0 285.0C224.7 284.2 224.7 283.8 230.0 284.5C235.3 285.2 236.3 284.7 240.0 287.5C243.7 290.3 242.1 291.0 243.8 295.0C245.4 299.0 244.6 299.2 246.2 302.5C247.9 305.8 248.0 307.2 250.0 307.5C252.0 307.8 252.4 306.1 253.8 303.8C255.1 301.4 255.3 302.4 255.0 298.8C254.7 295.1 253.5 294.3 252.5 290.0C251.5 285.7 250.6 286.5 251.2 282.5C251.9 278.5 252.0 278.7 255.0 275.0C258.0 271.3 257.2 272.1 262.5 268.8C267.8 265.4 269.7 266.2 275.0 262.5C280.3 258.8 279.8 259.0 282.5 255.0C285.2 251.0 282.3 250.8 285.0 247.5C287.7 244.2 289.8 244.5 292.5 242.5C295.2 240.5 294.3 240.7 295.0 240.0 M231.2 326.2C230.6 324.9 233.2 322.2 237.5 321.2C241.8 320.2 242.2 320.8 247.5 322.5C252.8 324.2 252.5 324.5 257.5 327.5C262.5 330.5 261.9 331.1 266.2 333.8C270.6 336.4 272.8 335.8 273.8 337.5C274.8 339.2 273.7 340.3 270.0 340.0C266.3 339.7 265.3 338.6 260.0 336.2C254.7 333.9 255.3 333.9 250.0 331.2C244.7 328.6 245.0 327.6 240.0 326.2C235.0 324.9 231.9 327.6 231.2 326.2Z M273.8 343.8C272.4 341.4 274.5 340.6 277.5 338.8C280.5 336.9 281.0 337.0 285.0 337.0C289.0 337.0 289.5 337.3 292.5 338.8C295.5 340.2 296.9 340.8 296.2 342.5C295.6 344.2 293.7 343.7 290.0 345.0C286.3 346.3 286.8 347.8 282.5 347.5C278.2 347.2 275.1 346.1 273.8 343.8Z M284.5 337.5 L283.8 347.0 M303.8 343.8C304.4 342.3 306.8 341.8 308.8 342.0C310.8 342.2 311.9 343.0 311.2 344.5C310.6 346.0 308.2 347.7 306.2 347.5C304.2 347.3 303.1 345.2 303.8 343.8Z M258.8 312.5C259.3 310.8 260.9 310.2 262.0 311.2C263.1 312.2 263.5 314.6 263.0 316.2C262.5 317.9 261.1 318.5 260.0 317.5C258.9 316.5 258.2 314.2 258.8 312.5Z M197.5 343.8C197.8 345.4 198.8 346.7 198.8 350.0C198.8 353.3 199.2 352.9 197.5 356.2C195.8 359.6 193.8 360.8 192.5 362.5 M211.2 350.0C209.6 350.7 208.3 352.5 205.0 352.5C201.7 352.5 200.4 350.7 198.8 350.0 M205.0 352.5C205.7 354.5 208.2 356.7 207.5 360.0C206.8 363.3 203.8 363.7 202.5 365.0 M212.5 357.5 L207.5 360.0 M207.5 360.0C209.2 362.0 210.4 367.5 213.8 367.5C217.1 367.5 218.3 362.0 220.0 360.0 M213.8 367.5 L215.0 377.5 M228.8 380.0 L220.0 383.8 M232.5 387.5 L225.0 387.5 M262.5 386.2C264.5 384.6 266.0 382.7 270.0 380.0C274.0 377.3 274.5 377.6 277.5 376.2C280.5 374.9 279.9 374.0 281.2 375.0C282.6 376.0 283.2 377.3 282.5 380.0C281.8 382.7 280.8 382.3 278.8 385.0C276.8 387.7 274.7 388.3 275.0 390.0C275.3 391.7 278.3 392.6 280.0 391.2C281.7 389.9 279.2 388.7 281.2 385.0C283.2 381.3 283.8 378.8 287.5 377.5C291.2 376.2 290.3 378.7 295.0 380.0C299.7 381.3 300.3 381.2 305.0 382.5C309.7 383.8 308.5 384.7 312.5 385.0C316.5 385.3 318.0 384.1 320.0 383.8 M281.2 380.0C279.6 382.0 276.0 382.8 275.0 387.5C274.0 392.2 274.2 393.5 277.5 397.5C280.8 401.5 282.8 401.8 287.5 402.5C292.2 403.2 291.7 398.0 295.0 400.0C298.3 402.0 299.3 404.7 300.0 410.0C300.7 415.3 298.2 417.3 297.5 420.0 M262.5 386.2C261.8 387.2 262.7 387.0 260.0 390.0C257.3 393.0 254.2 392.2 252.5 397.5C250.8 402.8 253.1 404.0 253.8 410.0C254.4 416.0 254.7 417.3 255.0 420.0"/></g>
    <clipPath id="mc6"><rect x="320" y="240" width="280" height="180"/></clipPath>
    <g clip-path="url(#mc6)"><path d="M590.0 258.8C587.3 258.4 585.3 257.8 580.0 257.5C574.7 257.2 575.3 254.8 570.0 257.5C564.7 260.2 564.0 262.2 560.0 267.5C556.0 272.8 557.7 272.2 555.0 277.5C552.3 282.8 554.0 282.2 550.0 287.5C546.0 292.8 543.3 293.5 540.0 297.5C536.7 301.5 539.5 299.8 537.5 302.5C535.5 305.2 534.5 303.5 532.5 307.5C530.5 311.5 532.0 312.8 530.0 317.5C528.0 322.2 526.7 320.3 525.0 325.0C523.3 329.7 523.1 329.7 523.8 335.0C524.4 340.3 525.8 340.3 527.5 345.0C529.2 349.7 528.7 348.5 530.0 352.5C531.3 356.5 530.5 356.0 532.5 360.0C534.5 364.0 536.8 363.5 537.5 367.5C538.2 371.5 535.0 370.3 535.0 375.0C535.0 379.7 535.8 380.3 537.5 385.0C539.2 389.7 539.2 388.5 541.2 392.5C543.2 396.5 542.0 396.0 545.0 400.0C548.0 404.0 548.5 403.5 552.5 407.5C556.5 411.5 556.0 411.7 560.0 415.0C564.0 418.3 565.5 418.7 567.5 420.0 M590.0 258.8C590.3 261.8 593.2 265.0 591.2 270.0C589.2 275.0 586.8 274.2 582.5 277.5C578.2 280.8 581.0 279.2 575.0 282.5C569.0 285.8 564.0 285.3 560.0 290.0C556.0 294.7 560.0 297.3 560.0 300.0 M540.0 298.8C545.3 299.1 554.7 298.3 560.0 300.0C565.3 301.7 564.0 303.3 560.0 305.0C556.0 306.7 549.3 302.2 545.0 306.2C540.7 310.2 547.8 315.7 543.8 320.0C539.8 324.3 533.7 321.8 530.0 322.5 M560.0 305.0C562.7 307.0 567.7 303.2 570.0 312.5C572.3 321.8 568.8 330.0 568.8 340.0C568.8 350.0 576.3 347.3 570.0 350.0C563.7 352.7 553.7 348.0 545.0 350.0C536.3 352.0 539.5 355.5 537.5 357.5 M560.0 300.0C563.3 302.7 561.2 301.3 572.5 310.0C583.8 318.7 594.5 326.5 602.5 332.5 M602.5 332.5C602.8 337.2 605.8 343.3 603.8 350.0C601.8 356.7 600.0 354.8 595.0 357.5C590.0 360.2 590.3 358.0 585.0 360.0C579.7 362.0 579.0 361.7 575.0 365.0C571.0 368.3 574.0 369.8 570.0 372.5C566.0 375.2 564.0 371.7 560.0 375.0C556.0 378.3 557.7 383.7 555.0 385.0C552.3 386.3 552.7 385.3 550.0 380.0C547.3 374.7 547.7 371.0 545.0 365.0C542.3 359.0 541.3 359.5 540.0 357.5 M530.0 352.5C532.7 353.8 536.0 354.2 540.0 357.5C544.0 360.8 545.7 362.3 545.0 365.0C544.3 367.7 539.5 366.8 537.5 367.5 M537.5 375.0C539.5 374.3 541.0 371.2 545.0 372.5C549.0 373.8 549.2 375.3 552.5 380.0C555.8 384.7 558.2 386.0 557.5 390.0C556.8 394.0 553.3 395.0 550.0 395.0C546.7 395.0 547.3 390.7 545.0 390.0C542.7 389.3 542.2 391.8 541.2 392.5 M550.0 395.0C552.0 397.7 554.8 399.7 557.5 405.0C560.2 410.3 559.3 412.3 560.0 415.0 M557.5 390.0C560.8 389.3 564.0 386.8 570.0 387.5C576.0 388.2 576.7 386.5 580.0 392.5C583.3 398.5 582.5 404.0 582.5 410.0C582.5 416.0 584.0 413.3 580.0 415.0C576.0 416.7 570.8 415.9 567.5 416.2 M570.0 372.5C572.7 374.5 574.0 378.7 580.0 380.0C586.0 381.3 588.5 380.2 592.5 377.5C596.5 374.8 594.3 375.3 595.0 370.0C595.7 364.7 595.0 360.8 595.0 357.5 M580.0 392.5C583.3 392.5 588.5 387.2 592.5 392.5C596.5 397.8 597.7 406.5 595.0 412.5C592.3 418.5 585.8 414.3 582.5 415.0 M592.5 377.5C594.5 378.8 597.7 373.8 600.0 382.5C602.3 391.2 602.6 402.0 601.2 410.0C599.9 418.0 596.7 411.8 595.0 412.5 M601.2 410.0C602.2 404.7 604.3 398.0 605.0 390.0C605.7 382.0 602.4 385.3 603.8 380.0C605.1 374.7 604.3 373.3 610.0 370.0C615.7 366.7 617.0 367.5 625.0 367.5C633.0 367.5 636.0 369.3 640.0 370.0 M603.8 380.0 L600.0 382.5 M602.5 332.5C605.8 334.5 607.0 339.3 615.0 340.0C623.0 340.7 625.8 337.7 632.5 335.0C639.2 332.3 638.0 331.3 640.0 330.0 M630.0 245.0C629.7 249.0 628.1 252.7 628.8 260.0C629.4 267.3 630.2 265.8 632.5 272.5C634.8 279.2 635.5 280.3 637.5 285.0C639.5 289.7 639.3 288.7 640.0 290.0 M590.0 258.8C591.3 257.1 589.7 254.8 595.0 252.5C600.3 250.2 601.3 251.7 610.0 250.0C618.7 248.3 622.2 247.6 627.5 246.2C632.8 244.9 628.0 246.0 630.0 245.0C632.0 244.0 632.3 241.8 635.0 242.5C637.7 243.2 638.7 246.2 640.0 247.5 M558.8 240.0C559.1 241.7 557.7 243.7 560.0 246.2C562.3 248.8 563.5 248.2 567.5 249.5C571.5 250.8 570.3 251.8 575.0 251.2C579.7 250.7 580.3 250.5 585.0 247.5C589.7 244.5 590.5 242.0 592.5 240.0 M320.0 385.0C321.3 384.7 323.0 383.1 325.0 383.8C327.0 384.4 326.8 386.5 327.5 387.5 M320.0 400.0C322.7 399.0 326.0 395.6 330.0 396.2C334.0 396.9 331.7 400.2 335.0 402.5C338.3 404.8 338.5 402.3 342.5 405.0C346.5 407.7 345.3 411.2 350.0 412.5C354.7 413.8 354.7 408.0 360.0 410.0C365.3 412.0 367.3 417.3 370.0 420.0 M335.0 402.5C334.3 405.8 331.8 410.3 332.5 415.0C333.2 419.7 336.2 418.7 337.5 420.0 M350.0 412.5 L347.5 420.0 M322.5 383.8C322.8 382.1 324.2 380.2 325.5 380.0C326.8 379.8 327.8 381.3 327.5 383.0C327.2 384.7 325.8 386.1 324.5 386.2C323.2 386.4 322.2 385.4 322.5 383.8Z"/></g>
    <clipPath id="mc7"><rect x="760" y="222" width="100" height="124"/><rect x="600" y="279" width="160" height="67"/><rect x="600" y="200" width="20" height="79"/></clipPath>
    <g clip-path="url(#mc7)"><path d="M626.4 212.2C626.9 210.0 627.6 209.5 632.5 208.1C637.4 206.8 639.8 206.6 644.7 207.1C649.6 207.7 649.7 208.0 650.8 210.2C651.9 212.3 648.2 212.0 648.8 215.2C649.3 218.5 649.6 218.8 652.8 222.3C656.1 225.9 657.1 225.5 660.9 228.4C664.7 231.4 664.1 231.6 667.0 233.5C670.0 235.4 672.1 234.5 672.1 235.5C672.1 236.6 668.9 235.4 667.0 237.6C665.1 239.7 666.1 241.5 665.0 243.7C663.9 245.8 663.8 246.8 663.0 245.7C662.2 244.6 663.6 242.9 662.0 239.6C660.3 236.4 659.9 236.5 656.9 233.5C653.9 230.5 654.0 231.4 650.8 228.4C647.5 225.5 647.9 225.1 644.7 222.3C641.4 219.6 642.4 219.9 638.6 218.3C634.8 216.7 633.7 217.9 630.5 216.3C627.2 214.6 625.9 214.4 626.4 212.2Z M649.8 247.7C652.5 246.7 656.9 244.9 659.9 245.7C662.9 246.5 661.8 249.0 660.9 250.8C660.1 252.6 659.9 252.7 656.9 252.4C653.9 252.1 651.7 251.0 649.8 249.8C647.9 248.5 647.1 248.8 649.8 247.7Z M633.5 222.3C634.9 219.4 636.2 219.2 637.6 221.3C638.9 223.5 638.6 225.3 638.6 230.5C638.6 235.6 638.9 237.6 637.6 240.6C636.2 243.6 634.9 243.8 633.5 241.6C632.2 239.5 632.5 237.6 632.5 232.5C632.5 227.4 632.2 225.3 633.5 222.3Z M650.8 210.2C653.5 209.9 657.1 208.6 660.9 209.1C664.7 209.7 662.8 209.8 665.0 212.2C667.2 214.6 666.4 215.6 669.1 218.3C671.8 221.0 672.7 219.6 675.2 222.3C677.6 225.1 676.9 224.9 678.2 228.4C679.6 232.0 678.9 232.3 680.2 235.5C681.6 238.8 681.4 237.6 683.3 240.6C685.2 243.6 685.4 243.7 687.3 246.7C689.2 249.7 688.5 250.7 690.4 251.8C692.3 252.9 693.9 252.4 694.5 250.8C695.0 249.2 692.2 247.6 692.4 245.7C692.7 243.8 695.2 245.6 695.5 243.7C695.7 241.8 693.4 241.0 693.4 238.6C693.4 236.2 693.3 236.2 695.5 234.5C697.6 232.9 698.9 232.8 701.6 232.5C704.3 232.2 704.0 234.6 705.6 233.5C707.3 232.4 706.3 230.9 707.7 228.4C709.0 226.0 709.4 226.8 710.7 224.4C712.1 221.9 711.4 222.5 712.7 219.3C714.1 216.0 714.7 215.2 715.8 212.2C716.9 209.2 716.5 209.2 716.8 208.1 M678.2 228.4C680.1 227.6 681.8 225.7 685.3 225.4C688.8 225.1 688.2 227.7 691.4 227.4C694.7 227.2 693.7 224.9 697.5 224.4C701.3 223.8 702.1 225.4 705.6 225.4C709.1 225.4 709.4 224.6 710.7 224.4 M683.3 240.6C684.9 239.0 686.1 236.2 689.4 234.5C692.6 232.9 693.8 234.5 695.5 234.5 M665.0 212.2C667.2 211.9 669.9 212.5 673.1 211.2C676.4 209.8 673.9 207.9 677.2 207.1C680.4 206.3 682.1 205.7 685.3 208.1C688.6 210.6 688.8 213.0 689.4 216.3C689.9 219.5 689.5 218.7 687.3 220.3C685.2 221.9 684.5 221.8 681.3 222.3C678.0 222.9 676.8 222.3 675.2 222.3 M689.4 216.3C692.1 216.8 694.1 218.0 699.5 218.3C704.9 218.6 706.2 217.0 709.7 217.3C713.2 217.5 711.9 218.8 712.7 219.3 M677.2 207.1 L681.3 200.0 M685.3 208.1C686.9 206.5 686.0 204.2 691.4 202.0C696.8 199.9 701.8 200.5 705.6 200.0 M663.0 212.2C664.1 214.4 664.3 217.1 667.0 220.3C669.7 223.6 670.1 222.2 673.1 224.4C676.1 226.5 676.9 227.4 678.2 228.4 M716.8 208.1C718.2 207.6 718.4 205.0 721.9 206.1C725.4 207.2 725.1 210.8 730.0 212.2C734.9 213.5 734.7 210.6 740.2 211.2C745.6 211.7 744.9 212.1 750.3 214.2C755.7 216.4 755.6 217.1 760.5 219.3C765.3 221.5 764.8 220.4 768.6 222.3C772.4 224.2 775.5 224.2 774.7 226.4C773.9 228.6 771.0 229.1 765.5 230.5C760.1 231.8 760.6 231.5 754.4 231.5C748.1 231.5 747.6 231.3 742.2 230.5C736.8 229.7 738.4 228.4 734.1 228.4C729.7 228.4 730.3 229.4 725.9 230.5C721.6 231.6 721.3 232.2 717.8 232.5C714.3 232.8 714.4 233.7 712.7 231.5C711.1 229.3 712.0 226.3 711.7 224.4 M738.1 208.1C738.1 206.2 738.9 205.4 742.2 204.1C745.4 202.7 748.4 201.7 750.3 203.0C752.2 204.4 751.5 207.0 749.3 209.1C747.1 211.3 745.2 211.4 742.2 211.2C739.2 210.9 738.1 210.0 738.1 208.1Z M705.6 233.5C705.9 235.4 705.6 236.8 706.6 240.6C707.7 244.4 707.0 245.0 709.7 247.7C712.4 250.4 713.0 249.2 716.8 250.8C720.6 252.4 719.8 252.7 723.9 253.8C728.0 254.9 727.2 254.8 732.0 254.8C736.9 254.8 738.4 253.6 742.2 253.8C746.0 254.1 744.1 256.1 746.3 255.9C748.4 255.6 747.1 253.9 750.3 252.8C753.6 251.7 753.6 252.3 758.4 251.8C763.3 251.3 764.3 251.3 768.6 250.8C772.9 250.2 771.4 250.3 774.7 249.8C777.9 249.2 779.2 249.0 780.8 248.8 M774.7 226.4C775.5 228.6 775.6 230.7 777.7 234.5C779.9 238.3 782.0 236.8 782.8 240.6C783.6 244.4 781.3 246.6 780.8 248.8 M746.3 255.9C746.0 257.8 745.2 259.4 745.2 263.0C745.2 266.5 746.8 265.3 746.3 269.1C745.7 272.9 744.6 272.9 743.2 277.2C741.9 281.5 742.0 282.1 741.2 285.3C740.4 288.6 740.4 288.3 740.2 289.4 M750.3 252.8C750.0 255.0 749.0 257.1 749.3 260.9C749.6 264.7 751.9 263.8 751.3 267.0C750.8 270.3 746.5 272.0 747.3 273.1C748.1 274.2 750.9 272.2 754.4 271.1C757.9 270.0 756.7 271.8 760.5 269.1C764.3 266.4 766.2 264.7 768.6 260.9C771.0 257.1 768.0 257.8 769.6 254.8C771.2 251.9 773.3 251.1 774.7 249.8 M760.5 269.1C761.0 271.0 763.6 272.9 762.5 276.2C761.4 279.4 759.4 278.8 756.4 281.3C753.4 283.7 754.0 282.9 751.3 285.3C748.6 287.8 748.7 289.9 746.3 290.4C743.8 290.9 743.3 288.2 742.2 287.3 M762.5 276.2C766.3 277.5 769.7 277.7 776.7 281.3C783.8 284.8 782.4 286.1 788.9 289.4C795.4 292.6 797.3 294.0 801.1 293.4C804.9 292.9 803.4 290.6 803.1 287.3C802.9 284.1 802.2 284.5 800.1 281.3C797.9 278.0 797.4 278.9 795.0 275.2C792.6 271.4 793.1 270.8 790.9 267.0C788.8 263.2 787.4 263.6 786.9 260.9C786.3 258.2 790.0 259.3 788.9 256.9C787.8 254.4 785.0 254.0 782.8 251.8C780.6 249.6 781.3 249.6 780.8 248.8 M801.1 293.4C802.2 291.8 802.5 287.9 805.2 287.3C807.9 286.8 808.5 288.7 811.3 291.4C814.0 294.1 812.6 294.8 815.3 297.5C818.0 300.2 818.2 301.0 821.4 301.6C824.7 302.1 823.7 299.5 827.5 299.5C831.3 299.5 831.8 299.4 835.6 301.6C839.4 303.7 837.9 305.5 841.7 307.7C845.5 309.8 847.7 309.1 849.8 309.7 M811.3 305.6C813.4 306.7 815.0 307.5 819.4 309.7C823.7 311.9 826.4 311.0 827.5 313.8C828.6 316.5 822.4 317.7 823.4 319.8C824.5 322.0 827.8 319.2 831.6 321.9C835.4 324.6 836.6 326.2 837.7 330.0C838.7 333.8 836.2 334.5 835.6 336.1 M831.6 321.9C832.9 319.7 835.6 317.5 836.6 313.8C837.7 310.0 833.7 308.2 835.6 307.7C837.5 307.1 840.0 307.9 843.8 311.7C847.5 315.5 848.8 316.5 849.8 321.9C850.9 327.3 848.4 329.3 847.8 332.0 M774.7 226.4C776.9 226.9 778.5 228.4 782.8 228.4C787.1 228.4 789.3 228.6 790.9 226.4C792.6 224.2 790.3 223.6 788.9 220.3C787.6 217.1 785.9 217.5 785.9 214.2C785.9 211.0 784.3 211.1 788.9 208.1C793.5 205.1 797.7 203.6 803.1 203.0C808.5 202.5 809.2 203.7 809.2 206.1C809.2 208.5 804.2 208.9 803.1 212.2C802.0 215.4 803.0 215.0 805.2 218.3C807.3 221.5 808.5 221.1 811.3 224.4C814.0 227.6 813.7 226.7 815.3 230.5C816.9 234.3 816.3 234.3 817.3 238.6C818.4 242.9 820.5 243.5 819.4 246.7C818.3 250.0 814.9 249.7 813.3 250.8 M817.3 238.6C819.0 239.1 819.1 240.9 823.4 240.6C827.8 240.4 829.3 237.6 833.6 237.6C837.9 237.6 835.4 238.7 839.7 240.6C844.0 242.5 847.1 243.6 849.8 244.7 M823.4 210.2C826.1 209.9 828.2 208.6 833.6 209.1C839.0 209.7 839.4 209.8 843.8 212.2C848.1 214.6 848.2 216.7 849.8 218.3 M821.4 216.3C822.0 218.4 821.3 221.1 823.4 224.4C825.6 227.6 826.8 228.4 829.5 228.4C832.2 228.4 830.3 225.7 833.6 224.4C836.8 223.0 837.4 221.7 841.7 223.4C846.1 225.0 847.7 228.6 849.8 230.5 M839.7 240.6 L849.8 252.8 M777.7 234.5C779.6 234.0 781.3 231.4 784.8 232.5C788.4 233.6 790.4 236.2 790.9 238.6C791.5 241.0 789.0 241.1 786.9 241.6C784.7 242.2 783.9 240.9 782.8 240.6 M790.9 226.4C793.6 227.5 795.7 231.0 801.1 230.5C806.5 229.9 808.5 226.0 811.3 224.4 M600.0 254.8C603.3 254.6 605.1 254.9 612.2 253.8C619.2 252.7 621.0 251.3 626.4 250.8C631.8 250.2 628.7 251.3 632.5 251.8C636.3 252.3 637.6 250.9 640.6 252.8C643.6 254.7 643.7 255.7 643.7 258.9C643.7 262.2 640.1 261.8 640.6 265.0C641.2 268.3 641.4 268.9 645.7 271.1C650.0 273.3 651.2 271.0 656.9 273.1C662.6 275.3 661.3 276.5 667.0 279.2C672.7 281.9 674.4 283.8 678.2 283.3C682.0 282.7 678.3 279.9 681.3 277.2C684.2 274.5 684.5 273.4 689.4 273.1C694.3 272.9 696.0 274.5 699.5 276.2C703.1 277.8 698.8 278.1 702.6 279.2C706.4 280.3 707.5 279.7 713.8 280.2C720.0 280.8 718.9 280.7 725.9 281.3C733.0 281.8 736.4 280.1 740.2 282.3C744.0 284.4 740.2 287.5 740.2 289.4 M632.5 251.8C632.0 253.7 631.6 254.8 630.5 258.9C629.4 263.0 626.8 262.2 628.4 267.0C630.1 271.9 633.9 272.9 636.6 277.2C639.3 281.5 638.1 281.7 638.6 283.3 M645.7 271.1C645.2 272.7 645.6 273.9 643.7 277.2C641.8 280.4 640.2 278.9 638.6 283.3C637.0 287.6 637.0 288.6 637.6 293.4C638.1 298.3 640.6 297.2 640.6 301.6C640.6 305.9 636.0 305.4 637.6 309.7C639.2 314.0 640.5 314.6 646.7 317.8C652.9 321.1 657.1 320.8 660.9 321.9 M702.6 279.2C703.1 284.1 704.1 286.1 704.6 297.5C705.2 308.9 704.9 311.0 704.6 321.9C704.3 332.7 703.9 333.8 703.6 338.1 M660.9 321.9C671.2 326.8 688.2 335.8 699.5 340.2C710.9 344.5 702.5 338.7 703.6 338.1 M660.9 321.9C662.0 324.6 663.4 326.6 665.0 332.0C666.6 337.5 666.5 339.5 667.0 342.2 M703.6 327.0 L717.8 326.3 M646.7 317.8C641.3 321.6 635.1 326.1 626.4 332.0C617.7 338.0 617.5 338.0 614.2 340.2 M740.2 289.4C739.1 289.6 735.6 287.1 736.1 290.4C736.6 293.6 739.5 295.9 742.2 301.6C744.9 307.3 745.2 309.0 746.3 311.7 M742.2 287.3C744.1 290.1 746.0 291.5 749.3 297.5C752.5 303.5 753.0 306.4 754.4 309.7 M600.0 232.5C602.2 230.3 603.3 227.9 608.1 224.4C613.0 220.9 613.4 220.9 618.3 219.3C623.2 217.7 624.2 218.6 626.4 218.3 M600.0 220.3C602.7 219.8 604.7 219.9 610.2 218.3C615.6 216.7 616.0 215.8 620.3 214.2C624.6 212.6 624.8 212.7 626.4 212.2"/></g>
    <clipPath id="mc8"><rect x="600" y="346" width="100" height="134"/></clipPath>
    <g clip-path="url(#mc8)"><path d="M612.5 370.6C615.0 368.1 615.3 367.2 620.8 367.5C626.4 367.8 626.7 371.4 633.3 371.7C640.0 371.9 640.0 369.1 645.8 368.5C651.7 368.0 652.4 367.9 655.2 369.6C658.0 371.2 656.8 371.5 656.2 374.8C655.7 378.1 654.2 377.9 653.1 382.1C652.0 386.2 653.5 386.0 652.1 390.4C650.7 394.9 650.7 395.4 647.9 398.8C645.1 402.1 644.7 401.8 641.7 402.9C638.6 404.0 638.4 400.7 636.5 402.9C634.5 405.1 635.2 408.2 634.4 411.2C633.5 414.3 636.4 413.8 633.3 414.4C630.3 414.9 627.9 415.3 622.9 413.3C617.9 411.4 618.5 409.6 614.6 407.1C610.7 404.6 610.6 406.7 608.3 404.0C606.1 401.2 606.0 401.4 606.2 396.7C606.5 391.9 608.0 391.5 609.4 386.2C610.8 381.0 610.6 381.0 611.5 376.9C612.3 372.7 610.0 373.1 612.5 370.6Z M604.2 330.0C605.3 331.7 605.6 332.9 608.3 336.2C611.1 339.6 613.2 338.1 614.6 342.5C616.0 346.9 614.7 348.5 613.5 352.9C612.4 357.4 612.9 356.9 610.4 359.2C607.9 361.4 606.9 360.1 604.2 361.2C601.4 362.4 601.1 362.8 600.0 363.3 M608.3 404.0 L600.0 402.9 M655.2 369.6C655.5 367.4 654.9 365.7 656.2 361.2C657.6 356.8 658.8 357.9 660.4 352.9C662.1 347.9 660.8 348.6 662.5 342.5C664.2 336.4 665.6 333.3 666.7 330.0 M655.2 369.6C656.6 370.1 658.5 369.4 660.4 371.7C662.4 373.9 662.2 374.3 662.5 377.9C662.8 381.5 663.1 382.7 661.5 385.2C659.8 387.7 656.5 387.6 656.2 387.3C656.0 387.0 659.6 386.9 660.4 384.2C661.2 381.4 660.5 379.4 659.4 376.9C658.3 374.4 657.1 375.3 656.2 374.8 M634.4 411.2C635.5 412.9 637.2 413.9 638.5 417.5C639.9 421.1 636.0 422.6 639.6 424.8C643.2 427.0 647.4 425.0 652.1 425.8C656.8 426.7 654.0 427.6 657.3 427.9C660.6 428.2 662.1 428.5 664.6 426.9C667.1 425.2 667.2 424.2 666.7 421.7C666.1 419.2 664.4 420.8 662.5 417.5C660.6 414.2 659.4 413.6 659.4 409.2C659.4 404.7 661.1 404.2 662.5 400.8C663.9 397.5 664.9 400.6 664.6 396.7C664.3 392.8 662.3 389.0 661.5 386.2 M664.6 396.7C666.2 396.9 666.9 398.8 670.8 397.7C674.7 396.6 676.4 394.4 679.2 392.5C681.9 390.6 680.7 391.0 681.2 390.4 M666.7 421.7C668.1 421.4 669.1 422.3 671.9 420.6C674.7 419.0 674.9 417.9 677.1 415.4C679.3 412.9 679.4 412.4 680.2 411.2 M639.6 424.8C639.0 426.7 637.8 427.9 637.5 432.1C637.2 436.3 636.6 436.0 638.5 440.4C640.5 444.9 642.6 444.9 644.8 448.8C647.0 452.6 645.5 451.1 646.9 455.0C648.3 458.9 648.9 460.0 650.0 463.3C651.1 466.7 650.5 464.7 651.0 467.5C651.6 470.3 650.8 470.4 652.1 473.8C653.4 477.1 654.8 478.3 655.8 480.0 M651.0 467.5C654.1 467.2 657.8 465.3 662.5 466.5C667.2 467.6 666.0 469.2 668.8 471.7C671.5 474.2 669.0 475.3 672.9 475.8C676.8 476.4 678.9 472.6 683.3 473.8C687.8 474.9 687.9 478.3 689.6 480.0 M652.1 425.8C652.6 426.7 652.8 428.4 654.2 429.0C655.6 429.5 656.5 428.2 657.3 427.9 M657.3 427.9C657.6 430.7 658.6 433.9 658.3 438.3C658.1 442.8 658.5 442.4 656.2 444.6C654.0 446.8 652.5 445.0 650.0 446.7C647.5 448.3 646.9 448.6 646.9 450.8C646.9 453.1 647.5 454.2 650.0 455.0C652.5 455.8 652.4 454.0 656.2 454.0C660.1 454.0 661.8 456.9 664.6 455.0C667.4 453.1 664.7 450.6 666.7 446.7C668.6 442.8 669.7 443.8 671.9 440.4C674.1 437.1 673.9 438.6 675.0 434.2C676.1 429.7 675.5 428.8 676.0 423.8C676.6 418.8 676.8 417.6 677.1 415.4 M644.8 448.8 L650.0 446.7 M650.0 463.3C652.2 462.5 654.4 462.4 658.3 460.2C662.2 458.0 662.9 456.4 664.6 455.0 M612.5 370.6C612.2 368.1 612.0 364.3 611.5 361.2C610.9 358.2 610.7 359.7 610.4 359.2 M633.3 371.7C632.8 367.2 630.7 362.8 631.2 355.0C631.8 347.2 634.9 349.2 635.4 342.5C636.0 335.8 633.9 333.3 633.3 330.0"/></g>
    <clipPath id="mc9"><rect x="620" y="88" width="140" height="42"/></clipPath>
    <g clip-path="url(#mc9)"><path d="M622.2 135.2C622.0 134.4 621.1 133.8 621.6 132.4C622.2 131.1 621.9 131.6 624.4 130.2C626.9 128.9 627.5 129.0 631.0 127.5C634.5 126.0 634.2 126.5 637.6 124.8C640.9 123.0 641.0 123.1 643.6 120.9C646.2 118.7 645.2 119.0 647.4 116.5C649.6 114.0 649.5 114.1 651.8 111.6C654.2 109.1 653.9 109.4 656.2 107.2C658.5 105.0 658.3 105.4 660.6 103.4C662.9 101.3 662.9 101.6 665.0 99.5C667.0 97.5 666.8 96.8 668.3 95.7C669.7 94.6 669.3 95.0 670.5 95.5C671.6 95.9 670.9 97.1 672.7 97.3C674.4 97.5 674.7 97.3 677.1 96.2C679.4 95.2 679.4 94.5 681.4 93.5C683.5 92.5 682.4 92.5 684.7 92.4C687.1 92.2 687.0 92.7 690.2 92.9C693.4 93.2 693.3 93.2 696.8 93.3C700.3 93.4 700.8 92.9 703.4 93.3C706.0 93.6 705.8 93.6 706.7 94.6C707.6 95.5 706.7 96.2 706.7 96.8 M706.7 95.7C708.4 96.1 709.5 96.3 713.3 97.3C717.1 98.4 717.1 98.2 720.9 99.5C724.7 100.8 724.0 100.9 727.5 102.3C731.0 103.6 730.9 103.3 734.1 104.5C737.3 105.6 737.8 105.5 739.6 106.7C741.4 107.8 741.0 107.5 740.7 108.8C740.4 110.2 740.5 110.4 738.5 111.6C736.5 112.8 736.2 112.7 733.0 113.2C729.8 113.8 729.6 113.8 726.4 113.8C723.2 113.8 723.9 114.0 720.9 113.2C718.0 112.5 717.7 112.1 715.5 111.0C713.3 110.0 712.7 109.5 712.7 109.4C712.7 109.2 713.6 109.6 715.5 110.5C717.4 111.4 718.1 111.1 719.8 112.7C721.6 114.3 720.9 114.6 722.0 116.5C723.2 118.4 722.5 118.2 724.2 119.8C726.0 121.4 726.6 121.7 728.6 122.6C730.7 123.4 730.9 123.4 731.9 123.1C732.9 122.8 733.2 122.3 732.5 121.5C731.7 120.6 730.2 120.8 729.2 119.8C728.1 118.8 727.6 118.4 728.6 117.6C729.6 116.9 730.7 116.8 733.0 117.1C735.4 117.4 735.5 118.1 737.4 118.7C739.3 119.3 739.7 119.9 740.1 119.3C740.6 118.7 738.6 117.7 739.0 116.5C739.5 115.4 739.9 115.8 741.8 114.9C743.7 114.0 743.8 113.8 746.2 113.2C748.5 112.7 749.3 113.3 750.6 112.7C751.9 112.1 751.6 112.2 751.1 111.0C750.7 109.9 749.4 109.8 748.9 108.3C748.5 106.8 749.8 106.9 749.5 105.6C749.2 104.2 747.8 104.4 747.8 103.4C747.8 102.3 747.9 102.0 749.5 101.7C751.1 101.4 752.0 101.8 753.9 102.3C755.8 102.7 756.2 102.5 756.6 103.4C757.0 104.2 755.4 104.2 755.5 105.6C755.7 106.9 756.0 107.3 757.2 108.3C758.4 109.3 759.2 109.1 760.0 109.4 M622.2 135.2C622.5 136.6 622.6 137.7 623.3 140.7C624.0 143.6 623.5 144.0 624.9 146.2C626.4 148.3 626.6 148.5 628.8 148.9C631.0 149.3 630.8 148.8 633.2 147.8C635.5 146.8 635.5 146.1 637.6 145.1C639.6 144.0 639.2 143.7 640.8 144.0C642.5 144.3 642.9 145.6 643.6 146.2 M643.6 146.2C644.3 145.3 645.3 144.6 646.3 142.9C647.4 141.1 646.7 141.3 647.4 139.6C648.2 137.8 648.9 138.3 649.1 136.3C649.2 134.2 648.6 134.2 648.0 131.9C647.4 129.5 646.6 129.5 646.9 127.5C647.2 125.5 647.6 125.7 649.1 124.2C650.5 122.7 651.2 123.5 652.4 122.0C653.5 120.6 652.6 120.5 653.5 118.7C654.3 117.0 654.6 117.3 655.7 115.4C656.7 113.5 656.0 113.6 657.3 111.6C658.6 109.5 658.5 109.5 660.6 107.7C662.6 106.0 662.6 106.3 665.0 105.0C667.3 103.7 667.0 103.7 669.4 102.8C671.7 101.9 671.4 102.0 673.8 101.7C676.1 101.4 676.1 101.3 678.2 101.7C680.2 102.2 680.3 103.2 681.4 103.4C682.6 103.5 681.1 102.6 682.5 102.3C684.0 102.0 684.9 102.6 686.9 102.3C689.0 102.0 688.9 102.3 690.2 101.2C691.5 100.0 690.4 99.2 691.9 97.9C693.3 96.6 693.7 96.4 695.7 96.2C697.8 96.1 698.2 96.6 699.5 97.3C700.9 98.1 699.6 98.7 700.6 99.0C701.7 99.3 701.8 99.0 703.4 98.4C705.0 97.8 705.8 97.2 706.7 96.8 M681.4 103.4C682.0 104.1 682.5 104.5 683.6 106.1C684.8 107.7 685.3 107.5 685.8 109.4C686.4 111.3 685.7 112.2 685.6 113.2 M685.6 113.2C684.8 113.5 684.1 113.5 682.5 114.3C681.0 115.2 681.0 115.1 679.8 116.5C678.6 118.0 679.5 118.4 678.2 119.8C676.8 121.3 676.9 121.0 674.9 122.0C672.8 123.0 672.7 122.6 670.5 123.7C668.3 124.7 668.2 124.2 666.6 125.9C665.0 127.5 665.0 127.5 664.4 129.7C663.9 131.9 664.1 132.0 664.4 134.1C664.8 136.1 665.5 136.5 665.9 137.4 M685.6 113.2C686.4 113.7 687.3 113.9 688.6 114.9C689.8 115.9 690.2 115.8 690.2 117.1C690.2 118.4 689.7 118.5 688.6 119.8C687.4 121.1 687.4 121.0 685.8 122.0C684.2 123.0 684.2 122.9 682.5 123.7C680.9 124.4 681.8 123.9 679.8 124.8C677.7 125.6 677.2 125.6 674.9 127.0C672.5 128.3 672.9 128.1 671.0 129.7C669.1 131.3 669.1 130.9 667.7 133.0C666.4 135.0 666.4 136.2 665.9 137.4 M679.8 124.8C679.2 125.3 678.2 125.6 677.6 127.0C677.0 128.3 677.2 128.4 677.6 129.7C678.0 131.0 678.7 130.1 679.2 131.9C679.8 133.6 679.7 135.1 679.8 136.3 M700.6 99.0C700.9 100.1 700.7 101.0 701.7 103.4C702.8 105.7 703.6 105.4 704.5 107.7C705.4 110.1 704.4 109.8 705.0 112.1C705.6 114.5 705.7 114.2 706.7 116.5C707.7 118.9 707.7 118.6 708.9 120.9C710.0 123.3 709.9 123.3 711.1 125.3C712.2 127.4 713.3 126.7 713.3 128.6C713.3 130.5 712.5 130.7 711.1 132.4C709.6 134.2 709.5 133.7 707.8 135.2C706.0 136.6 705.4 137.2 704.5 137.9"/></g>
    <clipPath id="mc10"><rect x="620" y="130" width="140" height="74"/></clipPath>
    <g clip-path="url(#mc10)"><path d="M647.4 130.0C647.9 131.5 648.9 132.9 649.1 135.5C649.2 138.1 648.7 137.8 648.0 139.9C647.2 141.9 647.5 142.0 646.3 143.2C645.2 144.3 645.1 144.1 643.6 144.3C642.1 144.4 642.7 143.1 640.8 143.7C638.9 144.3 638.8 145.1 636.5 146.5C634.1 147.8 634.4 147.9 632.1 148.7C629.7 149.4 629.6 149.8 627.7 149.2C625.8 148.6 626.1 148.7 624.9 146.5C623.8 144.3 624.0 143.9 623.3 141.0C622.6 138.0 622.6 138.4 622.2 135.5C621.8 132.6 621.8 131.5 621.6 130.0 M643.6 144.3C643.9 145.3 643.4 145.5 644.7 148.1C646.0 150.7 647.2 151.4 648.5 154.1C649.8 156.9 648.6 156.5 649.6 158.5C650.6 160.6 650.6 161.4 652.4 161.8C654.1 162.3 654.0 161.5 656.2 160.2C658.4 158.9 658.8 159.1 660.6 156.9C662.4 154.7 661.9 154.4 662.8 151.9C663.7 149.5 663.3 149.6 663.9 147.6C664.5 145.5 665.0 147.2 665.0 144.3C665.0 141.3 664.0 140.4 663.9 136.6C663.7 132.8 664.3 131.8 664.4 130.0 M666.1 130.0C665.9 131.8 665.2 132.8 665.5 136.6C665.8 140.4 666.4 140.2 667.2 144.3C667.9 148.4 667.3 148.6 668.3 151.9C669.3 155.3 669.3 154.8 671.0 156.9C672.8 158.9 673.0 158.9 674.9 159.6C676.8 160.4 676.8 160.5 678.2 159.6C679.5 158.7 678.9 158.1 679.8 156.3C680.7 154.6 680.4 154.9 681.4 153.0C682.5 151.1 682.9 151.1 683.6 149.2C684.4 147.3 683.3 147.4 684.2 145.9C685.1 144.4 684.2 144.7 686.9 143.7C689.7 142.7 690.8 142.4 694.6 142.1C698.4 141.8 699.0 142.2 701.2 142.6C703.4 143.1 702.4 143.4 702.8 143.7 M678.7 130.0C678.8 130.6 678.8 130.4 679.2 132.2C679.7 133.9 678.9 134.5 680.3 136.6C681.8 138.6 682.1 138.7 684.7 139.9C687.4 141.0 687.0 141.1 690.2 141.0C693.4 140.8 693.3 140.2 696.8 139.3C700.3 138.4 700.5 137.7 703.4 137.7C706.3 137.7 705.9 138.6 707.8 139.3C709.7 140.1 710.5 139.8 710.5 140.4C710.5 141.0 709.7 140.9 707.8 141.5C705.9 142.1 704.7 142.0 703.4 142.6C702.1 143.2 702.8 142.0 702.8 143.7C702.8 145.5 702.8 146.4 703.4 149.2C704.0 152.0 703.9 151.5 705.0 154.1C706.2 156.8 707.0 157.8 707.8 159.1 M713.3 130.0C712.4 130.9 711.7 131.5 710.0 133.3C708.2 135.0 708.4 135.4 706.7 136.6C704.9 137.8 704.3 137.4 703.4 137.7 M683.6 149.2C683.6 149.8 682.5 150.4 683.6 151.4C684.8 152.4 685.7 153.3 688.0 153.0C690.4 152.7 690.1 151.2 692.4 150.3C694.8 149.4 693.9 149.6 696.8 149.7C699.7 149.9 701.6 150.6 703.4 150.8 M680.9 156.3C681.9 156.6 682.2 157.3 684.7 157.4C687.2 157.6 687.0 156.6 690.2 156.9C693.4 157.2 693.9 157.6 696.8 158.5C699.7 159.4 698.3 160.0 701.2 160.2C704.1 160.3 706.0 159.4 707.8 159.1 M679.8 159.6C679.8 160.4 678.8 161.5 679.8 162.4C680.8 163.2 681.7 162.2 683.6 162.9C685.5 163.6 685.2 163.5 686.9 165.1C688.7 166.7 687.9 168.2 690.2 169.0C692.6 169.7 693.4 168.9 695.7 167.9C698.0 166.8 697.5 166.7 699.0 165.1C700.5 163.5 700.6 163.1 701.2 161.8C701.8 160.5 701.2 160.6 701.2 160.2 M679.8 162.4C679.1 163.0 678.1 163.4 677.1 164.6C676.0 165.7 674.8 166.0 676.0 166.8C677.1 167.5 678.8 167.3 681.4 167.3C684.1 167.3 684.4 167.3 685.8 166.8C687.3 166.2 686.6 165.5 686.9 165.1 M707.8 159.1C709.2 159.2 710.9 158.9 713.3 159.6C715.6 160.4 715.4 160.1 716.6 161.8C717.7 163.6 716.5 164.2 717.7 166.2C718.8 168.3 719.3 168.0 720.9 169.5C722.6 171.0 723.7 170.5 723.7 171.7C723.7 172.9 721.4 172.4 720.9 173.9C720.5 175.4 720.6 176.6 722.0 177.2C723.5 177.8 724.4 176.1 726.4 176.1C728.5 176.1 728.3 176.0 729.7 177.2C731.2 178.4 730.2 179.0 731.9 180.5C733.7 181.9 734.5 181.2 736.3 182.7C738.1 184.1 736.5 184.8 738.5 186.0C740.5 187.1 741.1 186.6 744.0 187.1C746.9 187.5 746.5 187.0 749.5 187.6C752.4 188.2 753.3 187.3 755.0 189.2C756.6 191.2 755.9 192.4 755.5 194.7C755.1 197.1 754.8 196.6 753.3 198.0C751.8 199.5 751.0 198.5 750.0 200.2C749.0 202.0 749.8 202.3 749.5 204.6C749.2 207.0 749.1 207.8 748.9 209.0 M722.0 177.2C720.9 178.1 720.0 179.3 717.7 180.5C715.3 181.6 715.9 181.7 713.3 181.6C710.6 181.4 710.7 180.8 707.8 179.9C704.9 179.0 705.2 178.7 702.3 178.3C699.4 177.8 699.6 177.8 696.8 178.3C694.0 178.7 693.2 179.5 691.9 179.9 M676.0 166.8C674.2 166.0 672.6 164.3 669.4 164.0C666.2 163.7 667.7 164.2 663.9 165.7C660.1 167.1 657.5 168.5 655.1 169.5 M690.2 169.0C690.5 170.3 690.9 171.0 691.3 173.9C691.8 176.8 691.6 177.3 691.9 179.9C692.2 182.6 692.9 181.9 692.4 183.8C692.0 185.7 691.2 185.0 690.2 187.1C689.2 189.1 689.0 190.3 688.6 191.4 M688.6 191.4C686.7 191.2 685.1 190.3 681.4 190.3C677.8 190.3 677.5 191.6 674.9 191.4C672.2 191.3 673.6 191.0 671.6 189.8C669.5 188.6 669.5 188.4 667.2 187.1C664.8 185.7 665.3 186.0 662.8 184.9C660.3 183.7 659.2 183.3 657.9 182.7 M655.1 169.5C655.4 171.0 655.5 172.4 656.2 175.0C656.9 177.6 657.4 177.3 657.9 179.4C658.3 181.4 657.9 181.8 657.9 182.7 M657.9 182.7C656.2 183.0 654.5 182.7 651.8 183.8C649.2 184.8 648.7 184.8 648.0 186.5C647.2 188.3 647.2 188.4 649.1 190.3C651.0 192.2 652.3 193.1 655.1 193.6C657.9 194.2 657.2 192.7 659.5 192.5C661.8 192.4 661.5 193.4 663.9 193.1C666.2 192.8 666.2 192.3 668.3 191.4C670.3 190.6 670.7 190.2 671.6 189.8 M668.3 191.4C668.0 192.3 666.3 193.0 667.2 194.7C668.1 196.5 668.9 197.7 671.6 198.0C674.2 198.3 674.4 196.7 677.1 195.8C679.7 195.0 678.8 194.6 681.4 194.7C684.1 194.9 685.0 197.3 686.9 196.4C688.8 195.5 688.1 192.8 688.6 191.4 M686.9 196.4C688.1 196.7 688.7 197.3 691.3 197.5C694.0 197.6 693.6 197.4 696.8 196.9C700.0 196.5 700.8 196.1 703.4 195.8C706.0 195.5 704.6 195.2 706.7 195.8C708.7 196.4 708.7 196.6 711.1 198.0C713.4 199.5 714.0 199.9 715.5 201.3C716.9 202.8 717.0 202.3 716.6 203.5C716.1 204.7 715.0 204.2 713.8 205.7C712.6 207.2 712.6 208.1 712.2 209.0 M706.7 195.8C707.3 197.0 707.6 197.9 708.9 200.2C710.2 202.6 710.3 203.1 711.6 204.6C712.9 206.1 713.2 205.4 713.8 205.7 M667.2 194.7C666.9 195.6 667.0 196.3 666.1 198.0C665.2 199.8 665.4 199.6 663.9 201.3C662.4 203.1 662.6 203.1 660.6 204.6C658.5 206.1 658.8 206.8 656.2 206.8C653.6 206.8 653.4 205.8 650.7 204.6C648.1 203.4 649.0 202.9 646.3 202.4C643.7 202.0 643.5 202.1 640.8 203.0C638.2 203.8 639.1 204.7 636.5 205.7C633.8 206.7 634.2 206.8 631.0 206.8C627.8 206.8 627.3 205.7 624.4 205.7C621.5 205.7 621.2 206.5 620.0 206.8 M655.1 193.6C653.6 194.2 653.1 194.5 649.6 195.8C646.1 197.1 645.7 197.4 641.9 198.6C638.1 199.7 638.6 200.1 635.4 200.2C632.1 200.4 631.9 200.3 629.9 199.1C627.8 198.0 628.3 196.7 627.7 195.8 M666.1 198.0C664.9 200.1 663.2 202.8 661.7 205.7C660.2 208.6 660.9 208.1 660.6 209.0 M686.9 196.4C686.3 197.7 685.9 198.5 684.7 201.3C683.6 204.1 684.6 204.8 682.5 206.8C680.5 208.9 678.5 208.4 677.1 209.0 M632.1 161.8C632.4 160.1 631.7 157.9 633.2 155.2C634.6 152.6 635.7 152.5 637.6 151.9C639.5 151.4 639.9 151.6 640.3 153.0C640.7 154.5 639.9 155.1 639.2 157.4C638.5 159.8 637.6 159.8 637.6 161.8C637.6 163.9 637.2 163.8 639.2 165.1C641.2 166.4 642.2 166.6 645.2 166.8C648.3 166.9 648.1 164.9 650.7 165.7C653.4 166.4 653.9 168.5 655.1 169.5 M632.1 161.8C632.5 162.7 634.3 163.1 633.7 165.1C633.1 167.2 631.8 167.7 629.9 169.5C628.0 171.3 628.3 171.0 626.6 171.7C624.8 172.4 625.0 171.7 623.3 172.2C621.5 172.8 620.9 173.4 620.0 173.9 M626.6 171.7C627.0 172.0 628.5 171.0 628.2 172.8C627.9 174.5 626.7 175.1 625.5 178.3C624.3 181.5 623.1 181.3 623.8 184.9C624.6 188.4 626.5 188.8 628.2 191.4C630.0 194.1 630.1 192.8 630.4 194.7C630.7 196.6 629.5 197.4 629.3 198.6C629.2 199.7 629.7 199.0 629.9 199.1 M620.0 183.8 L623.8 184.9"/></g>
    <clipPath id="mc11"><rect x="620" y="204" width="140" height="75"/></clipPath>
    <g clip-path="url(#mc11)"><path d="M624.4 202.2C625.0 202.6 624.5 205.3 626.6 206.6C628.6 207.9 629.4 207.6 632.1 207.1C634.7 206.7 634.1 206.1 636.5 204.9C638.8 203.8 638.4 203.3 640.8 202.7C643.3 202.2 643.4 202.2 645.8 202.7C648.1 203.3 647.9 203.5 649.6 204.9C651.4 206.4 652.4 206.8 652.4 208.2C652.4 209.7 650.9 209.1 649.6 210.4C648.3 211.7 647.9 211.3 647.4 213.2C647.0 215.1 646.8 215.5 648.0 217.6C649.1 219.6 649.9 218.9 651.8 220.8C653.7 222.7 652.8 222.8 655.1 224.7C657.5 226.6 657.8 226.2 660.6 228.0C663.4 229.7 663.0 229.8 665.5 231.3C668.0 232.7 667.9 232.4 669.9 233.5C672.0 234.5 672.5 234.2 673.2 235.1C673.9 236.0 673.8 236.6 672.7 236.8C671.5 236.9 670.6 235.7 668.8 235.7C667.1 235.7 666.7 235.4 666.1 236.8C665.5 238.1 666.8 238.4 666.6 240.6C666.5 242.8 666.3 243.5 665.5 245.0C664.8 246.4 664.8 246.7 663.9 246.1C663.0 245.5 662.5 244.8 662.2 242.8C662.0 240.7 663.4 240.5 662.8 238.4C662.2 236.4 661.8 236.9 660.0 235.1C658.3 233.4 658.4 233.4 656.2 231.8C654.0 230.2 654.3 230.5 651.8 229.1C649.3 227.6 649.2 227.8 646.9 226.3C644.5 224.9 644.8 225.3 643.0 223.6C641.3 221.8 641.8 221.7 640.3 219.7C638.8 217.8 639.2 217.5 637.6 216.5C635.9 215.4 636.0 215.6 634.3 215.9C632.5 216.2 632.7 217.7 631.0 217.6C629.2 217.4 629.0 217.1 627.7 215.4C626.4 213.6 626.3 213.0 626.0 211.0C625.7 208.9 627.0 209.3 626.6 207.7C626.1 206.1 625.0 206.4 624.4 204.9C623.8 203.5 623.8 201.8 624.4 202.2Z M633.7 222.5C634.4 221.5 634.9 221.1 635.9 221.4C636.9 221.7 637.3 221.7 637.6 223.6C637.8 225.5 636.9 226.0 637.0 228.5C637.2 231.0 637.4 230.4 638.1 232.9C638.8 235.4 639.7 235.5 639.7 237.9C639.7 240.2 639.6 240.5 638.1 241.7C636.6 242.9 635.7 243.1 634.3 242.2C632.8 241.4 632.9 240.9 632.6 238.4C632.3 235.9 632.7 235.5 633.2 232.9C633.6 230.3 634.3 230.6 634.3 228.5C634.3 226.5 633.3 226.8 633.2 225.2C633.0 223.6 633.0 223.5 633.7 222.5Z M649.6 247.2C650.8 246.4 652.2 246.5 655.1 246.1C658.0 245.6 659.1 244.7 660.6 245.5C662.1 246.4 661.3 247.6 660.8 249.4C660.4 251.1 660.6 251.8 659.0 252.1C657.3 252.4 656.8 251.3 654.6 250.5C652.4 249.6 652.0 249.7 650.7 248.8C649.4 247.9 648.5 247.9 649.6 247.2Z M652.4 208.2C653.7 207.8 654.7 207.6 657.3 206.6C659.9 205.6 660.5 205.4 662.2 204.4C664.0 203.4 663.4 203.2 663.9 202.7 M652.4 209.3C653.4 209.8 654.3 209.8 656.2 211.0C658.1 212.1 657.9 212.0 659.5 213.7C661.1 215.5 660.8 215.9 662.2 217.6C663.7 219.2 663.4 219.0 665.0 219.7C666.6 220.5 665.9 219.6 668.3 220.3C670.6 221.0 671.4 221.3 673.8 222.5C676.1 223.7 675.7 223.1 677.1 224.7C678.4 226.3 678.4 226.3 678.7 228.5C679.0 230.7 677.9 230.6 678.2 232.9C678.4 235.3 679.4 236.1 679.8 237.3 M663.9 212.1C665.2 211.0 665.6 211.0 668.3 211.0C670.9 211.0 671.6 210.9 673.8 212.1C676.0 213.2 675.6 213.8 676.5 215.4C677.4 217.0 677.6 216.6 677.1 218.1C676.5 219.6 675.5 219.8 674.3 220.8C673.1 221.9 674.3 222.2 672.7 221.9C671.1 221.7 670.3 220.9 668.3 219.7C666.2 218.6 666.3 218.9 665.0 217.6C663.7 216.2 663.6 216.3 663.3 214.8C663.0 213.3 662.6 213.1 663.9 212.1Z M676.5 215.4C676.1 214.2 675.0 213.2 674.9 211.0C674.7 208.8 674.6 208.3 676.0 207.1C677.3 206.0 677.7 205.9 679.8 206.6C681.8 207.3 681.7 208.1 683.6 209.9C685.5 211.6 685.2 211.4 686.9 213.2C688.7 214.9 689.6 214.7 690.2 216.5C690.8 218.2 689.1 217.8 689.1 219.7C689.1 221.7 690.8 222.3 690.2 223.6C689.6 224.9 689.0 224.2 686.9 224.7C684.9 225.1 684.6 225.5 682.5 225.2C680.5 224.9 680.7 223.7 679.2 223.6C677.8 223.4 677.6 224.4 677.1 224.7 M663.9 202.7C664.8 203.6 665.1 204.7 667.2 206.0C669.2 207.4 669.2 207.4 671.6 207.7C673.9 208.0 674.8 207.3 676.0 207.1 M684.7 200.0C684.3 201.2 683.4 202.6 683.1 204.4C682.8 206.1 684.5 206.0 683.6 206.6C682.8 207.2 680.8 206.6 679.8 206.6 M683.6 206.6C684.2 207.8 684.1 208.3 685.8 211.0C687.6 213.6 687.6 214.6 690.2 216.5C692.9 218.4 692.8 217.7 695.7 218.1C698.6 218.5 698.6 218.5 701.2 218.1C703.8 217.7 702.7 216.8 705.6 216.5C708.5 216.2 709.8 217.6 712.2 217.0C714.5 216.4 713.2 215.7 714.4 214.3C715.5 212.8 716.3 213.0 716.6 211.5C716.8 210.1 716.3 209.9 715.5 208.8C714.6 207.6 714.4 208.3 713.3 207.1C712.1 206.0 712.2 206.0 711.1 204.4C709.9 202.8 709.8 202.3 708.9 201.1C708.0 199.9 708.1 200.3 707.8 200.0 M716.6 200.0C716.7 200.9 717.7 201.5 717.1 203.3C716.5 205.0 715.4 205.6 714.4 206.6C713.3 207.6 713.6 207.0 713.3 207.1 M716.6 211.5C717.1 210.2 717.3 208.5 718.7 206.6C720.2 204.7 720.3 204.7 722.0 204.4C723.8 204.1 723.6 204.6 725.3 205.5C727.1 206.4 726.9 206.2 728.6 207.7C730.4 209.1 730.3 209.2 731.9 211.0C733.5 212.7 732.6 213.8 734.7 214.3C736.7 214.7 736.8 213.3 739.6 212.6C742.4 211.9 743.0 211.7 745.1 211.5C747.1 211.4 746.1 213.7 747.3 212.1C748.4 210.5 748.7 208.3 749.5 205.5C750.2 202.7 750.0 203.1 750.0 201.6C750.0 200.2 749.6 200.4 749.5 200.0 M737.4 207.1C738.0 206.1 738.6 206.0 740.7 204.9C742.7 203.9 742.9 203.9 745.1 203.3C747.3 202.7 747.8 202.0 748.9 202.7C750.1 203.5 750.2 204.0 749.5 206.0C748.7 208.1 748.2 209.4 746.2 210.4C744.1 211.4 743.8 210.3 741.8 209.9C739.7 209.4 739.7 209.5 738.5 208.8C737.3 208.0 736.8 208.2 737.4 207.1Z M747.3 212.1C748.4 212.7 749.3 213.1 751.7 214.3C754.0 215.4 753.8 215.4 756.1 216.5C758.3 217.5 759.0 217.7 760.0 218.1 M690.2 216.5C690.5 217.9 691.3 220.0 691.3 221.9C691.3 223.8 689.9 222.1 690.2 223.6C690.5 225.1 690.7 226.0 692.4 227.4C694.2 228.9 694.5 228.8 696.8 229.1C699.1 229.4 699.0 229.0 701.2 228.5C703.4 228.1 703.3 228.0 705.0 227.4C706.8 226.8 706.2 226.8 707.8 226.3C709.4 225.9 710.0 227.0 711.1 225.8C712.1 224.6 711.0 224.1 711.6 221.9C712.2 219.7 713.1 218.9 713.3 217.6C713.4 216.2 712.5 217.2 712.2 217.0 M682.5 225.2C682.8 226.1 683.5 226.6 683.6 228.5C683.8 230.4 682.2 231.6 683.1 232.4C684.0 233.1 684.7 232.1 686.9 231.3C689.1 230.4 689.9 230.1 691.3 229.1C692.8 228.1 692.1 227.9 692.4 227.4 M677.1 224.7C677.8 224.8 678.5 224.2 679.8 225.2C681.1 226.3 681.1 226.6 682.0 228.5C682.9 230.4 683.2 230.6 683.1 232.4C682.9 234.1 682.3 233.8 681.4 235.1C680.6 236.4 680.2 236.7 679.8 237.3 M679.8 237.3C680.2 238.3 680.3 239.4 681.4 241.1C682.6 242.9 683.0 242.6 684.2 243.9C685.4 245.2 684.5 245.8 685.8 246.1C687.1 246.4 687.7 245.6 689.1 245.0C690.6 244.4 689.9 243.6 691.3 243.9C692.8 244.2 693.4 245.9 694.6 246.1C695.8 246.2 696.0 245.6 695.7 244.4C695.4 243.3 694.0 243.3 693.5 241.7C693.1 240.1 694.4 240.0 694.1 238.4C693.8 236.8 692.3 237.1 692.4 235.7C692.6 234.2 693.1 234.1 694.6 232.9C696.1 231.7 696.1 231.6 697.9 231.3C699.7 231.0 699.3 231.5 701.2 231.8C703.1 232.1 703.9 233.2 705.0 232.4C706.2 231.5 705.6 229.8 705.6 228.5C705.6 227.2 705.2 227.7 705.0 227.4 M685.8 246.1C686.3 247.0 686.7 247.8 687.5 249.4C688.2 251.0 687.4 251.2 688.6 252.1C689.7 253.0 690.3 252.8 691.9 252.7C693.5 252.5 694.2 252.7 694.6 251.6C695.0 250.4 694.4 249.9 693.5 248.3C692.6 246.7 692.5 246.4 691.3 245.5C690.1 244.7 689.7 245.1 689.1 245.0 M705.6 228.5C705.9 229.7 705.7 231.5 706.7 232.9C707.7 234.4 708.0 234.3 709.4 234.0C710.9 233.7 710.6 232.4 712.2 231.8C713.8 231.2 715.2 232.4 715.5 231.8C715.8 231.2 714.3 230.9 713.3 229.6C712.2 228.3 712.2 227.9 711.6 226.9C711.0 225.9 711.2 226.1 711.1 225.8 M715.5 231.8C716.6 232.0 717.2 232.7 719.8 232.4C722.5 232.1 722.4 231.7 725.3 230.7C728.3 229.7 727.9 229.6 730.8 228.5C733.7 227.5 733.7 227.5 736.3 226.9C738.9 226.3 738.4 226.2 740.7 226.3C743.0 226.5 742.7 226.6 745.1 227.4C747.4 228.3 746.8 228.5 749.5 229.6C752.1 230.8 752.1 231.1 755.0 231.8C757.8 232.6 758.7 232.2 760.0 232.4 M709.4 234.0C708.7 234.3 707.6 233.9 706.7 235.1C705.8 236.3 705.8 236.5 706.1 238.4C706.4 240.3 707.3 240.2 707.8 242.2C708.2 244.3 707.2 244.2 707.8 246.1C708.4 248.0 708.8 247.9 710.0 249.4C711.1 250.8 710.4 250.7 712.2 251.6C713.9 252.4 714.5 251.8 716.6 252.7C718.6 253.5 718.1 254.1 719.8 254.9C721.6 255.6 721.4 255.8 723.1 255.4C724.9 255.0 724.7 253.9 726.4 253.2C728.2 252.5 727.7 252.2 729.7 252.7C731.8 253.1 731.8 254.0 734.1 254.9C736.5 255.7 735.9 256.1 738.5 256.0C741.1 255.8 741.6 254.9 744.0 254.3C746.3 253.7 746.3 253.3 747.3 253.8C748.3 254.2 748.1 254.8 747.8 256.0C747.5 257.1 746.5 256.7 746.2 258.2C745.9 259.6 746.0 259.8 746.7 261.4C747.5 263.1 748.6 262.7 748.9 264.2C749.2 265.6 748.7 265.6 747.8 266.9C746.9 268.2 746.7 267.4 745.6 269.1C744.6 270.9 744.9 270.9 744.0 273.5C743.1 276.1 742.8 277.5 742.3 279.0 M747.3 253.8C748.2 253.5 748.5 253.3 750.6 252.7C752.6 252.1 752.4 251.6 755.0 251.6C757.5 251.6 758.7 252.4 760.0 252.7 M748.9 264.2C749.7 264.6 749.8 265.7 751.7 265.8C753.6 266.0 753.8 265.9 756.1 264.7C758.3 263.6 759.0 262.3 760.0 261.4 M747.8 266.9C748.4 267.8 750.3 268.8 750.0 270.2C749.7 271.7 747.2 271.2 746.7 272.4C746.3 273.6 746.5 274.6 748.4 274.6C750.3 274.6 751.2 273.6 753.9 272.4C756.5 271.2 756.6 271.4 758.2 270.2C759.9 269.1 759.5 268.6 760.0 268.0 M620.0 253.8C621.8 253.2 623.4 252.3 626.6 251.6C629.8 250.8 629.4 251.3 632.1 251.0C634.7 250.7 633.8 250.0 636.5 250.5C639.1 250.9 640.0 251.2 641.9 252.7C643.8 254.1 643.6 254.1 643.6 256.0C643.6 257.9 642.1 258.0 641.9 259.8C641.8 261.6 643.5 260.9 643.0 262.5C642.6 264.2 640.9 264.1 640.3 265.8C639.7 267.6 639.5 267.7 640.8 269.1C642.2 270.6 643.8 269.9 645.2 271.3C646.7 272.8 646.6 273.1 646.3 274.6C646.0 276.1 645.3 275.6 644.1 276.8C643.0 278.0 642.5 278.4 641.9 279.0 M634.3 251.0C633.7 252.0 632.8 252.1 632.1 254.9C631.3 257.6 632.4 258.5 631.5 261.4C630.6 264.4 629.4 263.5 628.8 265.8C628.2 268.2 628.2 267.9 629.3 270.2C630.5 272.6 631.6 272.3 633.2 274.6C634.8 277.0 634.8 277.8 635.4 279.0 M645.2 271.3C647.0 271.8 648.3 272.4 651.8 273.0C655.3 273.5 655.8 271.9 658.4 273.5C661.0 275.1 660.8 277.5 661.7 279.0 M680.3 279.0C680.9 278.1 680.8 277.2 682.5 275.7C684.3 274.2 684.9 274.4 686.9 273.5C689.0 272.6 688.2 272.0 690.2 272.4C692.3 272.9 692.0 274.0 694.6 275.2C697.2 276.3 697.8 275.9 700.1 276.8C702.4 277.7 701.3 277.9 703.4 278.5C705.4 279.0 706.6 278.9 707.8 279.0"/></g>
    <clipPath id="mc12"><rect x="760" y="88" width="100" height="134"/></clipPath>
    <g clip-path="url(#mc12)"><path d="M749.3 104.2C750.1 103.8 750.2 102.3 752.3 102.6C754.5 102.9 755.3 103.4 757.4 105.2C759.6 107.0 757.5 109.0 760.5 109.3C763.5 109.6 764.3 107.6 768.6 106.3C772.9 104.9 771.8 105.6 776.7 104.2C781.6 102.9 780.9 102.5 786.9 101.2C792.8 99.8 794.7 100.4 799.1 99.1C803.4 97.9 799.3 96.9 803.1 96.5C806.9 96.1 807.9 96.5 813.3 97.7C818.7 99.0 819.6 99.5 823.4 101.2C827.2 102.8 827.8 104.4 827.5 103.8C827.2 103.3 824.9 101.7 822.4 99.1C820.0 96.5 818.6 96.2 818.4 94.1C818.1 91.9 819.5 92.1 821.4 91.0C823.3 89.9 824.4 90.3 825.5 90.0 M833.6 90.0C835.0 91.4 836.2 92.4 838.7 95.1C841.1 97.8 841.9 96.9 842.7 100.2C843.6 103.4 842.5 104.3 841.7 107.3C840.9 110.2 839.1 109.9 839.7 111.3C840.2 112.8 841.3 113.6 843.8 112.8C846.2 111.9 847.5 111.1 848.8 108.3C850.2 105.5 850.2 105.2 848.8 102.2C847.5 99.2 846.2 99.8 843.8 97.1C841.3 94.4 841.0 93.9 839.7 92.0C838.3 90.1 838.9 90.5 838.7 90.0 M780.8 187.5C781.6 187.0 781.1 187.1 783.8 185.5C786.5 183.8 786.9 183.0 790.9 181.4C795.0 179.8 794.7 179.1 799.1 179.4C803.4 179.6 803.4 181.1 807.2 182.4C811.0 183.8 809.5 184.5 813.3 184.5C817.1 184.5 817.1 182.7 821.4 182.4C825.7 182.2 826.0 182.9 829.5 183.4C833.1 184.0 833.5 185.5 834.6 184.5C835.7 183.4 835.0 181.5 833.6 179.4C832.2 177.2 830.3 178.2 829.5 176.3C828.7 174.4 830.8 174.4 830.6 172.3C830.3 170.1 826.4 169.6 828.5 168.2C830.7 166.9 833.0 167.9 838.7 167.2C844.4 166.5 846.9 166.0 849.8 165.6 M780.8 187.5C781.1 189.1 779.9 190.3 781.8 193.6C783.7 196.8 785.2 197.0 787.9 199.7C790.6 202.4 791.1 201.0 792.0 203.8C792.8 206.5 792.3 207.1 790.9 209.8C789.6 212.6 787.7 211.2 786.9 213.9C786.1 216.6 786.5 217.0 787.9 220.0C789.2 223.0 790.1 222.4 792.0 225.1C793.9 227.8 794.7 227.2 795.0 230.2C795.3 233.1 793.5 234.6 793.0 236.3 M792.0 206.8C793.6 205.7 794.5 204.1 798.0 202.7C801.6 201.4 802.2 201.2 805.2 201.7C808.1 202.3 808.4 202.6 809.2 204.8C810.0 206.9 809.8 207.9 808.2 209.8C806.6 211.7 805.0 210.0 803.1 211.9C801.2 213.8 800.6 214.2 801.1 217.0C801.6 219.7 802.5 219.6 805.2 222.0C807.9 224.5 808.0 223.9 811.3 226.1C814.5 228.3 815.2 227.5 817.3 230.2C819.5 232.9 818.8 234.6 819.4 236.3 M821.4 220.0C821.7 217.8 820.3 214.9 822.4 211.9C824.6 208.9 825.5 208.8 829.5 208.8C833.6 208.8 833.9 210.0 837.7 211.9C841.5 213.8 840.5 214.3 843.8 215.9C847.0 217.6 848.2 217.4 849.8 218.0 M821.4 220.0C822.5 222.2 822.2 225.4 825.5 228.1C828.7 230.8 830.3 231.8 833.6 230.2C836.8 228.5 835.0 223.7 837.7 222.0C840.4 220.4 840.5 221.9 843.8 224.1C847.0 226.2 848.2 228.5 849.8 230.2 M760.1 218.0C762.3 218.9 763.6 219.9 768.6 221.6C773.6 223.4 774.7 222.7 778.8 224.5C782.8 226.2 780.6 226.1 783.8 228.1C787.1 230.2 788.5 230.0 790.9 232.2C793.4 234.4 792.4 235.2 793.0 236.3"/></g>
    <clipPath id="mc13"><rect x="600" y="480" width="260" height="40"/><rect x="700" y="440" width="160" height="40"/></clipPath>
    <g clip-path="url(#mc13)"><path d="M634.3 440.0C636.7 441.9 639.5 442.4 643.3 447.2C647.2 452.0 646.8 452.8 648.8 458.1C650.7 463.4 648.6 461.3 650.6 467.1C652.5 472.9 654.1 472.5 656.0 479.7C657.9 486.9 659.2 486.5 657.8 494.2C656.3 501.9 653.6 500.9 650.6 508.6C647.5 516.3 646.2 516.3 646.2 523.1C646.2 529.8 647.5 528.1 650.6 533.9C653.6 539.7 654.9 537.0 657.8 544.7C660.7 552.4 659.0 554.6 661.4 562.8C663.8 571.0 664.4 569.6 666.8 575.4C669.2 581.2 668.5 579.2 670.4 584.5C672.3 589.8 672.6 589.0 674.0 595.3C675.5 601.6 672.5 604.1 675.8 607.9C679.2 611.8 679.9 610.0 686.7 609.7C693.4 609.4 693.4 608.8 701.1 606.8C708.8 604.9 708.8 606.6 715.6 602.5C722.3 598.5 721.6 597.5 726.4 591.7C731.2 585.9 730.7 587.6 733.6 580.8C736.5 574.1 734.8 572.2 737.2 566.4C739.6 560.6 740.2 564.0 742.7 559.2C745.1 554.4 744.8 554.1 746.3 548.3C747.7 542.6 744.7 543.3 748.1 537.5C751.4 531.7 753.6 533.4 758.9 526.7C764.2 519.9 764.1 519.5 767.9 512.2C771.8 505.0 772.1 506.3 773.3 499.6C774.6 492.8 772.8 490.3 772.6 486.9 M646.2 523.1C653.2 523.5 659.5 523.9 672.2 524.9C684.9 525.8 685.2 526.7 693.9 526.7C702.6 526.7 701.8 525.3 704.7 524.9 M650.6 467.1C655.4 466.6 661.4 463.4 668.6 465.3C675.8 467.2 671.9 471.4 677.6 474.3C683.4 477.2 686.4 471.8 690.3 476.1C694.1 480.4 689.2 485.7 692.1 490.6C695.0 495.4 701.1 489.8 701.1 494.2C701.1 498.5 694.5 499.6 692.1 506.8C689.7 514.0 691.6 516.0 692.1 521.3C692.6 526.6 693.4 525.2 693.9 526.7 M688.5 528.5C688.0 533.8 687.6 537.3 686.7 548.3C685.7 559.4 689.2 561.8 684.9 570.0C680.5 578.2 674.3 576.6 670.4 579.0 M704.7 526.7C708.6 531.5 718.2 536.1 719.2 544.7C720.1 553.4 714.6 553.9 708.3 559.2C702.1 564.5 701.5 561.7 695.7 564.6C689.9 567.5 689.1 568.6 686.7 570.0 M704.7 526.7C707.6 525.2 709.8 524.1 715.6 521.3C721.3 518.4 720.1 515.4 726.4 515.8C732.7 516.3 735.7 517.3 739.0 523.1C742.4 528.8 741.0 530.8 739.0 537.5C737.1 544.2 737.1 546.4 731.8 548.3C726.5 550.3 722.5 545.7 719.2 544.7 M701.1 494.2C705.0 495.1 709.3 494.9 715.6 497.8C721.8 500.7 717.9 502.6 724.6 505.0C731.3 507.4 737.0 509.7 740.8 506.8C744.7 503.9 743.4 496.6 739.0 494.2C734.7 491.8 729.9 498.7 724.6 497.8C719.3 496.8 719.2 495.9 719.2 490.6C719.2 485.3 719.3 480.3 724.6 477.9C729.9 475.5 734.2 479.1 739.0 481.5C743.9 483.9 741.7 485.5 742.7 486.9 M742.7 486.9C744.1 490.8 746.1 493.2 748.1 501.4C750.0 509.6 750.4 512.3 749.9 517.6C749.4 522.9 747.7 523.7 746.3 521.3C744.8 518.8 745.9 512.5 744.5 508.6C743.0 504.8 741.8 507.3 740.8 506.8 M742.7 486.9C745.1 488.9 743.7 492.7 751.7 494.2C759.7 495.6 767.0 492.8 772.6 492.4 M731.8 548.3C732.3 552.2 732.4 558.0 733.6 562.8C734.9 567.6 735.7 565.4 736.5 566.4 M712.0 584.5C711.8 581.9 713.2 581.1 715.6 580.1C718.0 579.2 719.2 579.2 721.0 580.8C722.7 582.5 723.3 583.9 722.1 586.3C720.8 588.7 719.0 590.4 716.3 589.9C713.6 589.4 712.1 587.1 712.0 584.5Z M634.3 440.0C631.9 441.0 628.7 439.8 625.3 443.6C621.9 447.5 625.5 450.6 621.7 454.4C617.8 458.3 615.6 453.2 610.8 458.1C606.0 462.9 605.5 468.7 603.6 472.5 M648.8 458.1C652.1 457.6 656.6 458.7 661.4 456.3C666.2 453.8 665.8 453.4 666.8 449.0C667.8 444.7 665.5 442.4 665.0 440.0"/></g>
    <clipPath id="mc14"><rect x="600" y="520" width="260" height="180"/></clipPath>
    <g clip-path="url(#mc14)"><path d="M645.3 520.0C646.1 522.5 646.4 524.4 648.4 529.4C650.5 534.4 650.6 533.8 653.1 538.8C655.6 543.8 655.7 542.3 657.8 548.1C659.9 554.0 658.9 554.4 660.9 560.6C663.0 566.9 663.5 566.6 665.6 571.6C667.7 576.6 667.5 575.2 668.8 579.4C670.0 583.5 669.1 582.6 670.3 587.2C671.6 591.8 672.2 592.0 673.4 596.6C674.7 601.1 673.3 600.8 675.0 604.4C676.7 608.0 676.4 608.8 679.7 610.0C683.0 611.2 682.1 609.9 687.5 609.1C692.9 608.2 693.3 608.1 700.0 606.9C706.7 605.6 706.7 606.7 712.5 604.4C718.3 602.0 717.3 602.3 721.9 598.1C726.5 594.0 726.4 593.8 729.7 588.8C733.0 583.8 732.7 584.0 734.4 579.4C736.0 574.8 733.9 575.7 735.9 571.6C738.0 567.4 739.7 568.3 742.2 563.8C744.7 559.2 744.1 559.4 745.3 554.4C746.6 549.4 746.0 550.0 746.9 545.0C747.7 540.0 746.4 540.2 748.4 535.6C750.5 531.0 750.9 531.6 754.7 527.8C758.4 524.1 759.6 523.6 762.5 521.6C765.4 519.5 764.8 520.4 765.6 520.0 M687.5 529.4C687.3 532.7 688.1 535.2 686.9 541.9C685.6 548.5 683.9 547.7 682.8 554.4C681.7 561.0 683.2 561.0 682.8 566.9C682.4 572.7 683.3 572.9 681.2 576.2C679.2 579.6 678.3 578.7 675.0 579.4C671.7 580.0 670.4 578.9 668.8 578.8 M645.3 521.6C649.9 522.4 651.2 524.3 662.5 524.7C673.8 525.1 679.2 522.7 687.5 523.1C695.8 523.5 689.6 525.8 693.8 526.2C697.9 526.7 700.6 525.1 703.1 524.7 M687.5 529.4C689.6 528.7 690.7 527.7 695.3 526.9C699.9 526.0 700.9 524.3 704.7 526.2C708.4 528.2 706.5 529.9 709.4 534.1C712.3 538.2 712.1 538.3 715.6 541.9C719.1 545.5 722.5 544.6 722.5 547.5C722.5 550.4 718.7 549.7 715.6 552.8C712.5 555.9 713.9 556.1 710.9 559.1C708.0 562.0 708.9 562.1 704.7 563.8C700.5 565.4 699.9 563.6 695.3 565.3C690.7 567.0 690.0 571.2 687.5 570.0C685.0 568.8 687.2 564.8 685.9 560.6C684.7 556.5 683.6 556.0 682.8 554.4 M704.7 526.2C706.8 525.8 707.1 526.4 712.5 524.7C717.9 523.0 721.7 521.2 725.0 520.0 M722.5 547.5C725.2 548.1 728.8 552.0 732.8 549.7C736.8 547.4 735.8 545.0 737.5 538.8C739.2 532.5 739.1 531.2 739.1 526.2C739.1 521.2 737.9 521.7 737.5 520.0 M732.8 549.7C733.1 552.6 732.9 554.8 733.8 560.6C734.6 566.5 735.4 568.6 735.9 571.6 M712.5 584.1C712.9 581.4 713.5 580.5 715.6 579.4C717.7 578.3 718.6 578.8 720.3 580.0C722.0 581.2 722.3 581.7 721.9 584.1C721.5 586.4 720.8 587.3 718.8 588.8C716.7 590.2 715.7 590.6 714.1 589.4C712.4 588.1 712.1 586.7 712.5 584.1Z"/></g>
    <clipPath id="mc15"><rect x="770" y="480" width="90" height="120"/></clipPath>
    <g clip-path="url(#mc15)"><path d="M811.3 497.8C813.9 496.8 814.6 497.9 815.6 503.2C816.6 508.5 816.3 509.5 814.9 517.6C813.4 525.8 813.4 524.7 810.2 533.9C807.0 543.0 806.5 544.4 803.0 552.0C799.4 559.5 800.7 559.0 796.8 562.1C793.0 565.1 792.2 565.2 788.5 563.5C784.9 561.8 784.4 561.1 783.1 555.6C781.8 550.1 782.2 549.2 783.5 542.9C784.7 536.7 786.3 537.9 787.8 532.1C789.2 526.3 786.5 526.1 788.9 521.3C791.3 516.4 792.3 517.9 796.8 514.0C801.3 510.2 802.0 511.1 805.9 506.8C809.7 502.5 808.7 498.7 811.3 497.8Z"/></g>
    <clipPath id="mc16"><rect x="0" y="420" width="600" height="300"/></clipPath>
    <g clip-path="url(#mc16)"><path d="M280.0 380.0C285.3 382.7 288.0 388.7 300.0 390.0C312.0 391.3 311.7 381.0 325.0 385.0C338.3 389.0 338.0 397.0 350.0 405.0C362.0 413.0 362.0 407.0 370.0 415.0C378.0 423.0 372.0 427.0 380.0 435.0C388.0 443.0 389.3 441.0 400.0 445.0C410.7 449.0 414.9 443.3 420.0 450.0C425.1 456.7 421.7 459.3 419.0 470.0C416.3 480.7 415.1 479.3 410.0 490.0C404.9 500.7 404.0 499.3 400.0 510.0C396.0 520.7 398.3 520.7 395.0 530.0C391.7 539.3 391.5 537.0 387.5 545.0C383.5 553.0 385.3 552.0 380.0 560.0C374.7 568.0 372.8 567.7 367.5 575.0C362.2 582.3 364.0 580.8 360.0 587.5C356.0 594.2 355.2 592.7 352.5 600.0C349.8 607.3 352.7 607.0 350.0 615.0C347.3 623.0 345.2 623.3 342.5 630.0C339.8 636.7 339.3 633.3 340.0 640.0C340.7 646.7 346.3 648.3 345.0 655.0C343.7 661.7 336.3 658.3 335.0 665.0C333.7 671.7 336.0 673.3 340.0 680.0C344.0 686.7 345.3 683.3 350.0 690.0C354.7 696.7 357.5 699.9 357.5 705.0C357.5 710.1 354.7 710.3 350.0 709.0C345.3 707.7 345.3 704.4 340.0 700.0C334.7 695.6 335.3 697.8 330.0 692.5C324.7 687.2 324.7 688.7 320.0 680.0C315.3 671.3 316.2 670.7 312.5 660.0C308.8 649.3 309.3 652.0 306.0 640.0C302.7 628.0 302.3 628.3 300.0 615.0C297.7 601.7 298.8 602.0 297.5 590.0C296.2 578.0 294.6 580.7 295.0 570.0C295.4 559.3 297.0 560.7 299.0 550.0C301.0 539.3 302.2 540.7 302.5 530.0C302.8 519.3 302.0 519.3 300.0 510.0C298.0 500.7 299.0 501.7 295.0 495.0C291.0 488.3 291.7 491.0 285.0 485.0C278.3 479.0 276.7 479.2 270.0 472.5C263.3 465.8 264.7 467.3 260.0 460.0C255.3 452.7 255.8 451.7 252.5 445.0C249.2 438.3 246.8 441.7 247.5 435.0C248.2 428.3 253.7 426.7 255.0 420.0C256.3 413.3 251.2 416.7 252.5 410.0C253.8 403.3 259.3 403.0 260.0 395.0C260.7 387.0 255.0 388.0 255.0 380.0C255.0 372.0 258.7 369.0 260.0 365.0 M300.0 510.0C305.3 508.7 312.0 503.7 320.0 505.0C328.0 506.3 326.7 507.0 330.0 515.0C333.3 523.0 327.2 527.0 332.5 535.0C337.8 543.0 342.7 538.3 350.0 545.0C357.3 551.7 358.0 552.0 360.0 560.0C362.0 568.0 355.5 571.0 357.5 575.0C359.5 579.0 364.8 575.0 367.5 575.0 M320.0 505.0C321.3 499.7 318.3 493.0 325.0 485.0C331.7 477.0 335.7 475.0 345.0 475.0C354.3 475.0 354.7 477.0 360.0 485.0C365.3 493.0 367.7 498.3 365.0 505.0C362.3 511.7 354.0 504.7 350.0 510.0C346.0 515.3 354.7 518.3 350.0 525.0C345.3 531.7 337.2 532.3 332.5 535.0 M295.0 495.0C299.0 491.0 307.3 489.3 310.0 480.0C312.7 470.7 311.7 466.7 305.0 460.0C298.3 453.3 294.3 451.7 285.0 455.0C275.7 458.3 274.0 467.8 270.0 472.5 M310.0 480.0 L325.0 485.0 M305.0 460.0C303.7 453.3 296.0 445.7 300.0 435.0C304.0 424.3 313.3 428.0 320.0 420.0C326.7 412.0 317.0 407.7 325.0 405.0C333.0 402.3 343.3 408.7 350.0 410.0 M252.5 410.0C257.2 411.3 261.3 415.0 270.0 415.0C278.7 415.0 278.3 415.3 285.0 410.0C291.7 404.7 291.7 403.0 295.0 395.0C298.3 387.0 296.8 384.0 297.5 380.0 M247.5 435.0C252.2 436.3 256.3 441.3 265.0 440.0C273.7 438.7 270.7 431.3 280.0 430.0C289.3 428.7 294.7 433.7 300.0 435.0 M370.0 692.5C371.3 690.1 375.3 689.6 380.0 690.0C384.7 690.4 388.8 691.6 387.5 694.0C386.2 696.4 379.7 699.4 375.0 699.0C370.3 698.6 368.7 694.9 370.0 692.5Z M306.0 640.0C309.7 640.0 314.3 634.7 320.0 640.0C325.7 645.3 324.8 646.0 327.5 660.0C330.2 674.0 329.3 683.8 330.0 692.5"/></g>
    <clipPath id="mc17"><rect x="1220" y="430" width="60" height="190"/></clipPath>
    <g clip-path="url(#mc17)"><path d="M1231.9 456.4C1233.7 457.8 1235.0 458.5 1238.5 461.7C1242.0 464.9 1243.0 464.5 1245.1 468.3C1247.2 472.2 1244.7 472.4 1246.4 476.3C1248.2 480.1 1248.9 480.0 1251.7 482.9C1254.5 485.7 1256.0 484.9 1257.0 486.8C1258.1 488.8 1258.2 489.9 1255.7 490.3C1253.2 490.6 1251.6 490.1 1247.8 488.2C1243.9 486.2 1244.3 485.3 1241.1 482.9C1238.0 480.4 1238.3 480.7 1235.9 478.9C1233.4 477.1 1233.0 477.0 1231.9 476.3 M1250.4 465.7C1250.8 464.1 1251.5 463.7 1254.4 463.0C1257.2 462.3 1257.8 464.5 1261.0 463.0C1264.1 461.6 1264.5 458.5 1266.3 457.8C1268.0 457.1 1268.3 457.9 1267.6 460.4C1266.9 462.9 1266.1 464.4 1263.6 467.0C1261.1 469.6 1261.1 469.6 1258.3 470.2C1255.5 470.7 1255.2 470.3 1253.0 469.1C1250.9 467.9 1250.0 467.3 1250.4 465.7Z M1231.9 530.4C1233.7 531.9 1235.7 532.2 1238.5 535.7C1241.3 539.3 1240.4 539.4 1242.5 543.7C1244.6 547.9 1244.0 546.0 1246.4 551.6C1248.9 557.2 1250.2 558.5 1251.7 564.8C1253.3 571.2 1253.3 569.0 1252.2 575.4C1251.2 581.7 1250.7 583.0 1247.8 588.6C1244.8 594.2 1245.4 592.3 1241.1 596.5C1236.9 600.8 1234.4 602.3 1231.9 604.5"/></g>
  </g>

  <!-- ============ LEFT PANEL ============ -->
  <rect x="71.2" y="126" width="555.4" height="541.8" fill="#dbecf6" fill-opacity="0.6"/>

  <!-- chart box -->
  <rect x="116.5" y="304.5" width="487" height="276.5" fill="#ebf4fb" fill-opacity="0.35" stroke="#000000" stroke-width="1.3"/>
  <g stroke="#d3d8db" stroke-width="1">
    <line x1="131" y1="319.3" x2="589" y2="319.3"/>
    <line x1="131" y1="356.5" x2="589" y2="356.5"/>
    <line x1="131" y1="393.7" x2="589" y2="393.7"/>
    <line x1="131" y1="430.9" x2="589" y2="430.9"/>
    <line x1="131" y1="468.1" x2="589" y2="468.1"/>
    <line x1="131" y1="505.3" x2="589" y2="505.3"/>
    <line x1="131" y1="542.6" x2="589" y2="542.6"/>
  </g>
  <rect x="189" y="454" width="113" height="89" fill="#33a1a3"/>
  <rect x="418" y="347.8" width="111.8" height="195.2" fill="#0681b1"/>


  <!-- ============ RIGHT PANEL ============ -->
  <rect x="851" y="126" width="380.4" height="542" rx="33" ry="33" fill="#deedf5" stroke="url(#panelStroke)" stroke-width="1.6"/>

  <g fill="#000000">
    <circle cx="950.8" cy="297.6" r="2.9"/>
    <circle cx="950.8" cy="326.5" r="2.9"/>
    <circle cx="950.8" cy="383.9" r="2.9"/>
    <circle cx="950.8" cy="412.6" r="2.9"/>
    <circle cx="950.8" cy="470.4" r="2.9"/>
    <circle cx="950.8" cy="499.2" r="2.9"/>
  </g>

  <!-- ============ CAGR BADGE ============ -->
  <circle cx="768.55" cy="397.45" r="84.15" fill="#1a3e4e" stroke="#ffffff" stroke-width="4.2"/>

  <!-- ============ TITLE ============ -->

  <!-- ============ LOGO ============ -->
  <g id="logo">
    <circle cx="1057.3" cy="49.4" r="13.5" fill="none" stroke="#5b7489" stroke-width="4"/>
    <path d="M1042.2 54 L1042 63.2 L1049.5 58.5 Z" fill="#5b7489"/>
    <rect x="1048.8" y="49.2" width="4" height="9.6" fill="#1eb0d8"/>
    <rect x="1055" y="44.9" width="4" height="15.6" fill="#1eb0d8"/>
    <rect x="1061.6" y="37" width="3.6" height="23" fill="#5b7489"/>
  </g>
  <text id="t1" class="t-title" x="67.27" y="51.4" textLength="127.53" lengthAdjust="spacingAndGlyphs">Vapor</text>
  <text id="t2" class="t-title" x="208.67" y="51.4" textLength="193.57" lengthAdjust="spacingAndGlyphs">Recovery</text>
  <text id="t3" class="t-title" x="417.55" y="51.4" textLength="92.63" lengthAdjust="spacingAndGlyphs">Units</text>
  <text id="t4" class="t-title" x="522.89" y="51.4" textLength="143.59" lengthAdjust="spacingAndGlyphs">Market</text>
  <text id="t5" class="t-title" x="681.86" y="51.4" textLength="93.39" lengthAdjust="spacingAndGlyphs">2024</text>
  <text id="t6" class="t-title" x="786.44" y="51.4" textLength="41.00" lengthAdjust="spacingAndGlyphs">to</text>
  <text id="t7" class="t-title" x="841.08" y="51.4" textLength="92.74" lengthAdjust="spacingAndGlyphs">2032</text>
  <text id="g1" class="t-reg" x="193.59" y="179" textLength="309.50" lengthAdjust="spacingAndGlyphs">Global Market Size, 2024 and 2032</text>
  <text id="g2" class="t-bold" x="284.88" y="207.5" textLength="128.04" lengthAdjust="spacingAndGlyphs">(USD Million)</text>
  <text id="v1" class="t-reg" x="227.12" y="435.4" textLength="58.74" lengthAdjust="spacingAndGlyphs">862.28</text>
  <text id="v2" class="t-reg" x="453.05" y="338.4" textLength="67.24" lengthAdjust="spacingAndGlyphs">1259.49</text>
  <text id="a1" class="t-axis" x="227.16" y="569.2" textLength="36.82" lengthAdjust="spacingAndGlyphs">2024</text>
  <text id="a2" class="t-axis" x="455.69" y="569.2" textLength="37.77" lengthAdjust="spacingAndGlyphs">2032</text>
  <text id="s1" class="t-seg-b" x="946.49" y="246.3" textLength="202.51" lengthAdjust="spacingAndGlyphs">Market Segments</text>
  <text id="s2" class="t-seg-b" x="946.49" y="275.4" textLength="259.52" lengthAdjust="spacingAndGlyphs">Based on Technology:</text>
  <text id="s3" class="t-seg" x="976.59" y="304.25" textLength="166.87" lengthAdjust="spacingAndGlyphs">Condensation</text>
  <text id="s4" class="t-seg" x="977.08" y="333.2" textLength="127.44" lengthAdjust="spacingAndGlyphs">Adsorption</text>
  <text id="s5" class="t-seg-b" x="946.44" y="362" textLength="258.97" lengthAdjust="spacingAndGlyphs">Based on Application:</text>
  <text id="s6" class="t-seg" x="975.78" y="390.5" textLength="124.30" lengthAdjust="spacingAndGlyphs">Processing</text>
  <text id="s7" class="t-seg" x="976.04" y="419.1" textLength="93.46" lengthAdjust="spacingAndGlyphs">Storage</text>
  <text id="s8" class="t-seg-b" x="946.58" y="448.2" textLength="220.98" lengthAdjust="spacingAndGlyphs">Based on End User:</text>
  <text id="s9" class="t-seg" x="976.60" y="477" textLength="105.80" lengthAdjust="spacingAndGlyphs">Oil &amp; gas</text>
  <text id="s10" class="t-seg" x="976.31" y="505.8" textLength="139.25" lengthAdjust="spacingAndGlyphs">Chemical &amp;</text>
  <text id="s11" class="t-seg" x="975.86" y="534.3" textLength="175.78" lengthAdjust="spacingAndGlyphs">petrochemical</text>
  <text id="c1" class="t-cagr" x="721.14" y="390" textLength="94.16" lengthAdjust="spacingAndGlyphs">CAGR</text>
  <text id="c2" class="t-cagr" x="722.47" y="429" textLength="91.43" lengthAdjust="spacingAndGlyphs">4.85%</text>
  <text id="l1" class="t-logo1" x="1076.58" y="50.6" textLength="84.29" lengthAdjust="spacingAndGlyphs">Credence</text>
  <text id="l2" class="t-logo2" x="1167.91" y="50.6" textLength="80.15" lengthAdjust="spacingAndGlyphs">Research</text>
  <text id="l3" class="t-tag" x="1077.71" y="61.4" textLength="169.17" lengthAdjust="spacing">Actionable Insights Delivered</text>
</svg>
</body>
</html>
